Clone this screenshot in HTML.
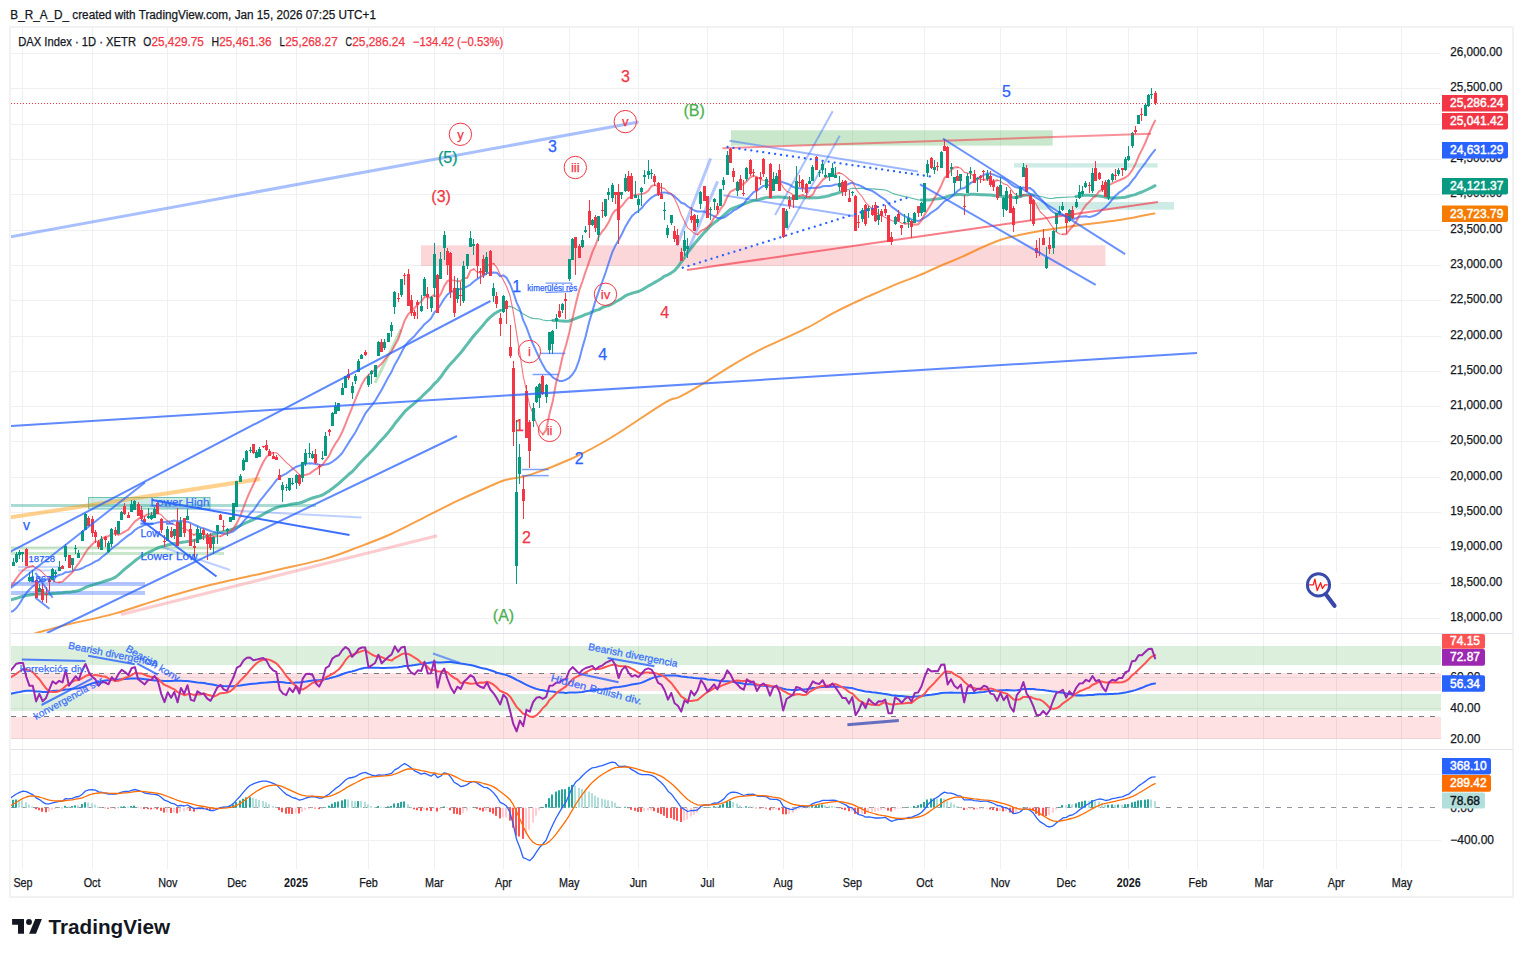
<!DOCTYPE html>
<html><head><meta charset="utf-8"><style>
html,body{margin:0;padding:0;background:#fff;width:1523px;height:957px;overflow:hidden}
svg{display:block}
</style></head><body>
<svg width="1523" height="957" viewBox="0 0 1523 957">
<defs><clipPath id="cmain"><rect x="11" y="28" width="1430" height="605"/></clipPath><clipPath id="crsi"><rect x="11" y="634" width="1430" height="115"/></clipPath><clipPath id="cmacd"><rect x="11" y="750" width="1430" height="119"/></clipPath></defs>
<rect x="10" y="27" width="1503" height="870" fill="none" stroke="#f2f2f2" stroke-width="2"/>
<rect x="22" y="28" width="1" height="841" fill="#eef0f1"/>
<rect x="92" y="28" width="1" height="841" fill="#eef0f1"/>
<rect x="167" y="28" width="1" height="841" fill="#eef0f1"/>
<rect x="236" y="28" width="1" height="841" fill="#eef0f1"/>
<rect x="296" y="28" width="1" height="841" fill="#eef0f1"/>
<rect x="368" y="28" width="1" height="841" fill="#eef0f1"/>
<rect x="434" y="28" width="1" height="841" fill="#eef0f1"/>
<rect x="503" y="28" width="1" height="841" fill="#eef0f1"/>
<rect x="569" y="28" width="1" height="841" fill="#eef0f1"/>
<rect x="638" y="28" width="1" height="841" fill="#eef0f1"/>
<rect x="707" y="28" width="1" height="841" fill="#eef0f1"/>
<rect x="783" y="28" width="1" height="841" fill="#eef0f1"/>
<rect x="852" y="28" width="1" height="841" fill="#eef0f1"/>
<rect x="924" y="28" width="1" height="841" fill="#eef0f1"/>
<rect x="1000" y="28" width="1" height="841" fill="#eef0f1"/>
<rect x="1066" y="28" width="1" height="841" fill="#eef0f1"/>
<rect x="1128" y="28" width="1" height="841" fill="#eef0f1"/>
<rect x="1197" y="28" width="1" height="841" fill="#eef0f1"/>
<rect x="1263" y="28" width="1" height="841" fill="#eef0f1"/>
<rect x="1336" y="28" width="1" height="841" fill="#eef0f1"/>
<rect x="1401" y="28" width="1" height="841" fill="#eef0f1"/>
<rect x="11" y="53" width="1430" height="1" fill="#eef0f1"/>
<rect x="11" y="88" width="1430" height="1" fill="#eef0f1"/>
<rect x="11" y="124" width="1430" height="1" fill="#eef0f1"/>
<rect x="11" y="159" width="1430" height="1" fill="#eef0f1"/>
<rect x="11" y="194" width="1430" height="1" fill="#eef0f1"/>
<rect x="11" y="230" width="1430" height="1" fill="#eef0f1"/>
<rect x="11" y="265" width="1430" height="1" fill="#eef0f1"/>
<rect x="11" y="300" width="1430" height="1" fill="#eef0f1"/>
<rect x="11" y="336" width="1430" height="1" fill="#eef0f1"/>
<rect x="11" y="371" width="1430" height="1" fill="#eef0f1"/>
<rect x="11" y="406" width="1430" height="1" fill="#eef0f1"/>
<rect x="11" y="441" width="1430" height="1" fill="#eef0f1"/>
<rect x="11" y="477" width="1430" height="1" fill="#eef0f1"/>
<rect x="11" y="512" width="1430" height="1" fill="#eef0f1"/>
<rect x="11" y="547" width="1430" height="1" fill="#eef0f1"/>
<rect x="11" y="583" width="1430" height="1" fill="#eef0f1"/>
<rect x="11" y="618" width="1430" height="1" fill="#eef0f1"/>
<rect x="11" y="677" width="1430" height="1" fill="#eef0f1"/>
<rect x="11" y="708" width="1430" height="1" fill="#eef0f1"/>
<rect x="11" y="738" width="1430" height="1" fill="#eef0f1"/>
<rect x="11" y="774" width="1430" height="1" fill="#eef0f1"/>
<rect x="11" y="840" width="1430" height="1" fill="#eef0f1"/>
<rect x="11" y="633" width="1502" height="1" fill="#e0e3eb"/>
<rect x="11" y="749" width="1502" height="1" fill="#e0e3eb"/>
<g clip-path="url(#cmain)">
<rect x="421" y="245.3" width="684.5" height="20.7" fill="#f23645" fill-opacity="0.2"/>
<rect x="731" y="130.3" width="321.7" height="15.3" fill="#4caf50" fill-opacity="0.3"/>
<rect x="1014" y="163.2" width="143.6" height="4.4" fill="#089981" fill-opacity="0.2"/>
<rect x="1036" y="202" width="138" height="7.7" fill="#089981" fill-opacity="0.2"/>
<rect x="88.5" y="497.5" width="121.5" height="11.5" fill="#089981" fill-opacity="0.2" stroke="#089981" stroke-opacity="0.55" stroke-width="1"/>
<line x1="10" y1="505.5" x2="316" y2="505.5" stroke="#089981" stroke-width="3" stroke-opacity="0.35" stroke-linecap="butt"/>
<line x1="10" y1="548" x2="224" y2="548" stroke="#4caf50" stroke-width="3" stroke-opacity="0.3" stroke-linecap="butt"/>
<line x1="10" y1="553.5" x2="224" y2="553.5" stroke="#4caf50" stroke-width="3" stroke-opacity="0.3" stroke-linecap="butt"/>
<line x1="10" y1="584" x2="145" y2="584" stroke="#2962ff" stroke-width="4" stroke-opacity="0.35" stroke-linecap="butt"/>
<line x1="10" y1="593" x2="145" y2="593" stroke="#2962ff" stroke-width="4" stroke-opacity="0.35" stroke-linecap="butt"/>
<line x1="18" y1="567" x2="60" y2="567" stroke="#2962ff" stroke-width="2" stroke-opacity="0.25" stroke-linecap="butt"/>
<line x1="18" y1="570.5" x2="60" y2="570.5" stroke="#2962ff" stroke-width="2" stroke-opacity="0.25" stroke-linecap="butt"/>
<line x1="10" y1="517.5" x2="260" y2="479" stroke="#ff9800" stroke-width="4" stroke-opacity="0.45" stroke-linecap="butt"/>
<line x1="121" y1="614.5" x2="437" y2="535.7" stroke="#f23645" stroke-width="3" stroke-opacity="0.25" stroke-linecap="butt"/>
<line x1="10" y1="237" x2="638.5" y2="122" stroke="#2962ff" stroke-width="3" stroke-opacity="0.4" stroke-linecap="butt"/>
<line x1="150" y1="506" x2="361.5" y2="517.5" stroke="#2962ff" stroke-width="2" stroke-opacity="0.3" stroke-linecap="butt"/>
<line x1="162" y1="547" x2="230" y2="570" stroke="#2962ff" stroke-width="2" stroke-opacity="0.3" stroke-linecap="butt"/>
<line x1="375" y1="383" x2="401" y2="329.5" stroke="#4caf50" stroke-width="3" stroke-opacity="0.35" stroke-linecap="butt"/>
<line x1="729.5" y1="140.7" x2="918" y2="171.4" stroke="#2962ff" stroke-width="2" stroke-opacity="0.45" stroke-linecap="butt"/>
<line x1="723.5" y1="195.3" x2="853.6" y2="216.1" stroke="#2962ff" stroke-width="2" stroke-opacity="0.45" stroke-linecap="butt"/>
<line x1="676.9" y1="245.9" x2="710.6" y2="158.5" stroke="#2962ff" stroke-width="3" stroke-opacity="0.35" stroke-linecap="butt"/>
<line x1="685.8" y1="255.8" x2="717.6" y2="181.4" stroke="#2962ff" stroke-width="3" stroke-opacity="0.35" stroke-linecap="butt"/>
<line x1="775.1" y1="215.1" x2="832.7" y2="111.3" stroke="#2962ff" stroke-width="2" stroke-opacity="0.4" stroke-linecap="butt"/>
<line x1="787" y1="230" x2="839.7" y2="135.7" stroke="#2962ff" stroke-width="2" stroke-opacity="0.4" stroke-linecap="butt"/>
<path d="M30.0 635.0C31.2 634.6 31.1 634.5 37.3 632.8C43.5 631.1 54.4 627.8 67.3 624.6C80.2 621.4 98.8 617.9 114.5 613.6C130.2 609.3 146.0 603.3 161.8 598.6C177.6 593.9 192.7 589.3 209.1 585.2C225.5 581.1 248.8 576.4 260.0 573.9C271.2 571.4 265.3 572.6 276.2 570.1C287.1 567.6 311.8 562.4 325.5 558.6C339.2 554.8 347.4 551.2 358.3 547.1C369.2 543.0 380.2 538.9 391.1 534.0C402.1 529.1 413.1 523.1 424.0 517.6C434.9 512.1 445.9 506.4 456.8 501.2C467.7 496.0 481.4 490.0 489.6 486.4C497.8 482.8 499.3 481.7 506.0 479.8C512.7 477.9 519.0 478.4 530.0 474.9C541.0 471.3 558.4 464.7 571.9 458.5C585.4 452.3 596.0 446.7 611.3 437.5C626.6 428.3 652.3 410.1 663.8 403.3C675.2 396.5 673.0 400.1 680.0 396.6C687.0 393.1 697.1 387.2 705.6 382.1C714.1 377.0 722.7 370.9 731.2 365.8C739.7 360.7 748.3 355.7 756.8 351.3C765.3 346.9 773.9 343.4 782.4 339.4C790.9 335.4 799.5 331.8 808.0 327.4C816.5 323.0 826.5 316.7 833.6 312.9C840.7 309.1 845.0 307.1 850.7 304.4C856.4 301.7 860.7 299.9 867.8 296.7C874.9 293.5 884.9 288.9 893.4 285.3C901.9 281.8 911.2 278.6 919.0 275.4C926.8 272.2 933.0 269.0 940.0 266.0C947.0 263.0 950.6 261.8 960.7 257.4C970.8 253.0 987.4 244.2 1000.8 239.8C1014.2 235.4 1026.8 233.4 1041.0 230.8C1055.2 228.2 1072.6 226.1 1086.0 224.3C1099.4 222.5 1109.9 221.6 1121.3 219.8C1132.7 218.0 1149.0 214.5 1154.5 213.4" fill="none" stroke="#f57c00" stroke-width="2" stroke-opacity="0.72" stroke-linecap="round"/>
<polyline points="9.8,600.3 13.1,599.2 16.4,598.3 19.7,597.2 23.0,596.3 26.3,595.5 29.5,594.9 32.8,594.4 36.1,594.3 39.4,594.1 42.7,594.0 46.0,594.0 49.3,593.9 52.6,593.6 55.9,593.3 59.2,592.9 62.5,592.7 65.7,592.2 69.0,592.2 72.3,591.8 75.6,591.2 78.9,590.5 82.2,589.2 85.5,587.4 88.8,586.1 92.1,585.2 95.4,584.1 98.7,583.1 101.9,582.1 105.2,581.0 108.5,580.0 111.8,578.9 115.1,577.4 118.4,574.9 121.7,571.9 125.0,568.9 128.3,566.3 131.6,563.6 134.9,560.8 138.1,558.4 141.4,556.1 144.7,554.5 148.0,552.7 151.3,551.1 154.6,549.5 157.9,547.9 161.2,546.7 164.5,545.9 167.8,545.0 171.1,544.3 174.3,543.4 177.6,543.1 180.9,542.5 184.2,542.1 187.5,541.4 190.8,541.0 194.1,540.4 197.4,539.4 200.7,538.1 204.0,537.1 207.3,536.0 210.6,535.0 213.8,534.1 217.1,533.2 220.4,532.2 223.7,531.4 227.0,530.6 230.3,530.0 233.6,528.7 236.9,527.2 240.2,525.7 243.5,523.9 246.8,522.3 250.0,521.0 253.3,519.6 256.6,517.9 259.9,516.2 263.2,514.2 266.5,512.4 269.8,510.7 273.1,509.0 276.4,507.7 279.7,506.6 283.0,505.9 286.2,505.4 289.5,504.6 292.8,504.0 296.1,503.4 299.4,503.0 302.7,502.0 306.0,500.6 309.3,499.2 312.6,498.0 315.9,497.0 319.2,496.1 322.4,495.0 325.7,493.1 329.0,490.9 332.3,488.6 335.6,486.0 338.9,483.4 342.2,480.3 345.5,477.4 348.8,474.3 352.1,471.7 355.4,468.3 358.6,464.5 361.9,461.0 365.2,457.5 368.5,454.3 371.8,450.8 375.1,447.2 378.4,443.3 381.7,439.8 385.0,436.3 388.3,432.4 391.6,428.3 394.8,423.8 398.1,419.7 401.4,415.7 404.7,411.7 408.0,408.6 411.3,405.8 414.6,403.1 417.9,400.2 421.2,397.3 424.5,393.9 427.8,390.9 431.0,387.8 434.3,383.8 437.6,380.8 440.9,376.8 444.2,371.9 447.5,367.5 450.8,363.6 454.1,360.3 457.4,356.4 460.7,352.8 464.0,348.5 467.2,344.3 470.5,340.0 473.8,335.8 477.1,332.1 480.4,328.2 483.7,324.4 487.0,320.4 490.3,317.2 493.6,314.3 496.9,312.2 500.2,310.5" fill="none" stroke="#089981" stroke-width="3" stroke-opacity="0.65" stroke-linejoin="round" stroke-linecap="round"/>
<polyline points="500.2,310.5 500.2,310.5 503.4,308.4 506.7,306.8 510.0,306.4 513.3,307.5 516.6,309.6 519.9,311.2 523.2,314.0 526.5,315.7 529.8,317.6 533.1,318.3 536.4,318.6 539.7,319.0 542.9,320.0 546.2,320.7 549.5,320.5 552.8,320.4" fill="none" stroke="#089981" stroke-width="1.2" stroke-opacity="0.65" stroke-linejoin="round" stroke-linecap="round"/>
<polyline points="552.8,320.4 552.8,320.4 556.1,320.3 559.4,320.8 562.7,320.9 566.0,321.3 569.3,321.0 572.6,319.7 575.9,318.4 579.1,317.2 582.4,315.9 585.7,314.4 589.0,313.3 592.3,311.8 595.6,310.4 598.9,309.6 602.2,307.6 605.5,306.4 608.8,305.6 612.1,304.0 615.3,302.0 618.6,300.2 621.9,298.2 625.2,295.9 628.5,294.4 631.8,293.3 635.1,292.4 638.4,291.5 641.7,290.0 645.0,288.0 648.3,285.9 651.5,284.3 654.8,282.4 658.1,280.5 661.4,278.4 664.7,276.1 668.0,274.8 671.3,272.9 674.6,270.5 677.9,266.8 681.2,262.2 684.5,257.8 687.7,252.7 691.0,248.4 694.3,244.0 697.6,240.2 700.9,236.3 704.2,232.6 707.5,229.1 710.8,225.6 714.1,222.9 717.4,220.5 720.7,217.9 723.9,215.2 727.2,212.2 730.5,209.4 733.8,207.8 737.1,206.7 740.4,205.5 743.7,204.2 747.0,202.8 750.3,201.7 753.6,200.6 756.9,200.1 760.1,199.1 763.4,198.2 766.7,197.6 770.0,197.6 773.3,197.3 776.6,197.1 779.9,197.0 783.2,197.3 786.5,197.7 789.8,198.3 793.1,198.4 796.3,198.1 799.6,197.8 802.9,197.6 806.2,197.7 809.5,197.9 812.8,197.8 816.1,197.7 819.4,197.5 822.7,196.9 826.0,196.4 829.3,195.7 832.5,194.5 835.8,193.7 839.1,192.6 842.4,191.5" fill="none" stroke="#089981" stroke-width="3" stroke-opacity="0.65" stroke-linejoin="round" stroke-linecap="round"/>
<polyline points="842.4,191.5 842.4,191.5 845.7,190.1 849.0,189.3 852.3,188.3 855.6,188.5 858.9,188.3 862.2,188.1 865.5,188.8 868.8,188.9 872.0,188.9 875.3,189.1 878.6,189.4 881.9,189.6 885.2,190.0 888.5,191.3 891.8,193.0 895.1,194.1 898.4,195.0 901.7,195.9 905.0,196.6 908.2,197.0 911.5,198.2 914.8,199.0 918.1,199.8 921.4,200.0" fill="none" stroke="#089981" stroke-width="1.2" stroke-opacity="0.65" stroke-linejoin="round" stroke-linecap="round"/>
<polyline points="921.4,200.0 921.4,200.0 924.7,200.1 928.0,199.9 931.3,199.7 934.6,199.1 937.9,198.8 941.2,198.4 944.4,197.6 947.7,196.4 951.0,195.5 954.3,195.0 957.6,194.6 960.9,194.5 964.2,195.0 967.5,194.7 970.8,194.3 974.1,194.3 977.4,194.5 980.6,194.7 983.9,194.7 987.2,194.9 990.5,195.1 993.8,195.4 997.1,196.0 1000.4,196.2 1003.7,196.5 1007.0,196.5 1010.3,196.9 1013.6,197.4 1016.8,197.5 1020.1,196.6 1023.4,195.5 1026.7,195.1 1030.0,194.7 1033.3,195.0" fill="none" stroke="#089981" stroke-width="3" stroke-opacity="0.65" stroke-linejoin="round" stroke-linecap="round"/>
<polyline points="1033.3,195.0 1033.3,195.0 1036.6,195.8 1039.9,196.4 1043.2,197.0 1046.5,197.8 1049.8,198.5 1053.0,198.3 1056.3,197.7 1059.6,197.6 1062.9,197.3 1066.2,197.2 1069.5,197.0 1072.8,197.0 1076.1,196.5" fill="none" stroke="#089981" stroke-width="1.2" stroke-opacity="0.65" stroke-linejoin="round" stroke-linecap="round"/>
<polyline points="1076.1,196.5 1076.1,196.5 1079.4,196.0 1082.7,195.6 1086.0,195.2 1089.2,195.2 1092.5,195.4 1095.8,195.7 1099.1,195.9 1102.4,196.4 1105.7,197.3 1109.0,197.9 1112.3,197.8 1115.6,198.0 1118.9,197.8 1122.2,197.6 1125.4,197.3 1128.7,196.3 1132.0,195.4 1135.3,194.6 1138.6,193.2 1141.9,192.0 1145.2,190.5 1148.5,189.0 1151.8,187.4 1155.1,185.7" fill="none" stroke="#089981" stroke-width="3" stroke-opacity="0.65" stroke-linejoin="round" stroke-linecap="round"/>
<polyline points="9.8,612.0 13.1,611.0 16.4,608.0 19.7,603.5 23.0,597.9 26.3,593.0 29.5,589.5 32.8,586.3 36.1,584.3 39.4,581.8 42.7,580.2 46.0,579.7 49.3,578.5 52.6,577.2 55.9,576.3 59.2,575.0 62.5,574.1 65.7,572.2 69.0,571.9 72.3,571.1 75.6,569.9 78.9,569.5 82.2,568.3 85.5,566.4 88.8,565.1 92.1,563.4 95.4,561.4 98.7,560.0 101.9,557.0 105.2,554.6 108.5,551.8 111.8,548.5 115.1,546.0 118.4,543.6 121.7,540.6 125.0,538.0 128.3,535.4 131.6,533.3 134.9,530.0 138.1,527.9 141.4,526.5 144.7,524.9 148.0,524.2 151.3,524.2 154.6,523.4 157.9,522.4 161.2,522.1 164.5,521.9 167.8,521.4 171.1,521.2 174.3,520.5 177.6,521.4 180.9,520.9 184.2,521.4 187.5,521.7 190.8,523.2 194.1,524.7 197.4,526.0 200.7,527.6 204.0,528.5 207.3,529.7 210.6,531.0 213.8,532.1 217.1,532.6 220.4,533.1 223.7,533.8 227.0,533.7 230.3,532.5 233.6,531.2 236.9,528.4 240.2,525.7 243.5,521.4 246.8,517.8 250.0,513.7 253.3,510.5 256.6,505.8 259.9,500.9 263.2,496.8 266.5,492.6 269.8,488.7 273.1,484.5 276.4,480.1 279.7,477.2 283.0,475.2 286.2,473.6 289.5,471.2 292.8,468.9 296.1,466.8 299.4,465.8 302.7,464.8 306.0,463.7 309.3,463.3 312.6,463.5 315.9,464.1 319.2,464.8 322.4,465.1 325.7,464.5 329.0,463.7 332.3,461.8 335.6,459.4 338.9,456.6 342.2,453.0 345.5,447.8 348.8,442.4 352.1,437.4 355.4,432.3 358.6,426.1 361.9,420.2 365.2,413.7 368.5,409.4 371.8,405.3 375.1,400.9 378.4,395.3 381.7,389.7 385.0,383.5 388.3,377.3 391.6,371.7 394.8,364.7 398.1,359.0 401.4,352.6 404.7,346.2 408.0,342.1 411.3,339.0 414.6,335.9 417.9,331.8 421.2,328.3 424.5,324.2 427.8,321.4 431.0,318.5 434.3,312.4 437.6,309.5 440.9,304.2 444.2,298.8 447.5,294.5 450.8,292.0 454.1,291.0 457.4,289.2 460.7,289.3 464.0,287.7 467.2,286.5 470.5,284.6 473.8,281.5 477.1,279.1 480.4,276.9 483.7,275.4 487.0,273.0 490.3,272.8 493.6,272.4 496.9,272.7 500.2,276.3 503.4,275.4 506.7,277.9 510.0,284.0 513.3,292.3 516.6,302.3 519.9,309.5 523.2,320.2 526.5,327.3 529.8,336.5 533.1,344.3 536.4,351.7 539.7,358.7 542.9,365.1 546.2,370.8 549.5,373.6 552.8,377.3 556.1,379.4 559.4,380.9 562.7,380.9 566.0,379.7 569.3,377.8 572.6,374.3 575.9,368.9 579.1,360.2 582.4,347.6 585.7,336.3 589.0,322.5 592.3,311.6 595.6,300.4 598.9,290.8 602.2,282.0 605.5,272.8 608.8,262.7 612.1,252.7 615.3,245.8 618.6,240.3 621.9,234.0 625.2,227.1 628.5,221.4 631.8,216.3 635.1,213.1 638.4,211.1 641.7,208.1 645.0,203.9 648.3,200.5 651.5,197.6 654.8,195.5 658.1,194.2 661.4,192.8 664.7,192.4 668.0,193.3 671.3,194.1 674.6,196.4 677.9,199.4 681.2,202.8 684.5,203.7 687.7,206.5 691.0,208.5 694.3,210.5 697.6,211.5 700.9,211.4 704.2,211.5 707.5,213.0 710.8,214.7 714.1,216.1 717.4,218.0 720.7,218.3 723.9,217.6 727.2,215.4 730.5,213.0 733.8,210.4 737.1,208.8 740.4,206.4 743.7,203.8 747.0,199.2 750.3,195.9 753.6,192.2 756.9,190.8 760.1,188.2 763.4,185.9 766.7,185.3 770.0,185.1 773.3,183.1 776.6,181.5 779.9,181.1 783.2,182.4 786.5,183.5 789.8,184.7 793.1,187.0 796.3,187.9 799.6,188.2 802.9,188.5 806.2,188.6 809.5,188.0 812.8,187.9 816.1,187.7 819.4,187.6 822.7,186.3 826.0,186.1 829.3,186.1 832.5,185.5 835.8,184.4 839.1,184.6 842.4,185.4 845.7,185.5 849.0,183.7 852.3,182.8 855.6,184.1 858.9,185.2 862.2,186.7 865.5,188.7 868.8,189.7 872.0,190.9 875.3,192.8 878.6,195.3 881.9,197.5 885.2,199.6 888.5,203.5 891.8,206.9 895.1,209.1 898.4,211.7 901.7,214.4 905.0,216.3 908.2,217.7 911.5,219.4 914.8,220.0 918.1,221.1 921.4,219.7 924.7,217.7 928.0,215.4 931.3,212.6 934.6,210.5 937.9,208.1 941.2,204.6 944.4,201.4 947.7,199.5 951.0,197.2 954.3,194.0 957.6,190.9 960.9,188.8 964.2,188.1 967.5,185.5 970.8,182.9 974.1,181.2 977.4,178.7 980.6,176.9 983.9,174.9 987.2,173.5 990.5,173.6 993.8,174.7 997.1,176.2 1000.4,177.1 1003.7,178.7 1007.0,180.6 1010.3,183.8 1013.6,186.1 1016.8,187.6 1020.1,188.1 1023.4,187.4 1026.7,188.3 1030.0,188.1 1033.3,190.5 1036.6,194.6 1039.9,198.1 1043.2,201.4 1046.5,205.4 1049.8,209.2 1053.0,212.1 1056.3,213.5 1059.6,214.7 1062.9,215.1 1066.2,217.0 1069.5,217.6 1072.8,218.9 1076.1,218.3 1079.4,216.7 1082.7,216.4 1086.0,216.2 1089.2,217.1 1092.5,216.2 1095.8,215.0 1099.1,212.8 1102.4,209.6 1105.7,206.9 1109.0,203.6 1112.3,199.4 1115.6,195.8 1118.9,192.7 1122.2,190.5 1125.4,187.9 1128.7,185.4 1132.0,180.9 1135.3,177.0 1138.6,171.9 1141.9,167.5 1145.2,163.2 1148.5,158.4 1151.8,153.9 1155.1,149.8" fill="none" stroke="#2962ff" stroke-width="2" stroke-opacity="0.7" stroke-linejoin="round" stroke-linecap="round"/>
<polyline points="9.8,587.8 13.1,583.5 16.4,578.4 19.7,574.0 23.0,570.4 26.3,567.7 29.5,566.7 32.8,565.9" fill="none" stroke="#f23645" stroke-width="2" stroke-opacity="0.6" stroke-linejoin="round" stroke-linecap="round"/>
<polyline points="32.8,565.9 36.1,568.4 39.4,569.6 42.7,572.6 46.0,575.8 49.3,578.7 52.6,580.3 55.9,582.3 59.2,582.4" fill="none" stroke="#f23645" stroke-width="1.1" stroke-opacity="0.7" stroke-linejoin="round" stroke-linecap="round"/>
<polyline points="59.2,582.4 62.5,581.6 65.7,578.5 69.0,575.5 72.3,572.5 75.6,567.3 78.9,563.1 82.2,558.0 85.5,552.5 88.8,547.9 92.1,544.5 95.4,541.3" fill="none" stroke="#f23645" stroke-width="2" stroke-opacity="0.6" stroke-linejoin="round" stroke-linecap="round"/>
<polyline points="95.4,541.3 98.7,541.4" fill="none" stroke="#f23645" stroke-width="1.1" stroke-opacity="0.7" stroke-linejoin="round" stroke-linecap="round"/>
<polyline points="98.7,541.4 101.9,538.6 105.2,536.8 108.5,536.2 111.8,533.8" fill="none" stroke="#f23645" stroke-width="2" stroke-opacity="0.6" stroke-linejoin="round" stroke-linecap="round"/>
<polyline points="111.8,533.8 115.1,534.1 118.4,534.8" fill="none" stroke="#f23645" stroke-width="1.1" stroke-opacity="0.7" stroke-linejoin="round" stroke-linecap="round"/>
<polyline points="118.4,534.8 121.7,533.3 125.0,531.5 128.3,529.6 131.6,525.3 134.9,521.5 138.1,519.1 141.4,516.7 144.7,516.0 148.0,514.2 151.3,513.6 154.6,513.4 157.9,513.4" fill="none" stroke="#f23645" stroke-width="2" stroke-opacity="0.6" stroke-linejoin="round" stroke-linecap="round"/>
<polyline points="157.9,513.4 161.2,514.6 164.5,518.4 167.8,521.2 171.1,523.4 174.3,524.4 177.6,526.8 180.9,527.5 184.2,529.2 187.5,530.0 190.8,533.1 194.1,534.9" fill="none" stroke="#f23645" stroke-width="1.1" stroke-opacity="0.7" stroke-linejoin="round" stroke-linecap="round"/>
<polyline points="194.1,534.9 197.4,533.5" fill="none" stroke="#f23645" stroke-width="2" stroke-opacity="0.6" stroke-linejoin="round" stroke-linecap="round"/>
<polyline points="197.4,533.5 200.7,533.9" fill="none" stroke="#f23645" stroke-width="1.1" stroke-opacity="0.7" stroke-linejoin="round" stroke-linecap="round"/>
<polyline points="200.7,533.9 204.0,533.6" fill="none" stroke="#f23645" stroke-width="2" stroke-opacity="0.6" stroke-linejoin="round" stroke-linecap="round"/>
<polyline points="204.0,533.6 207.3,535.1 210.6,535.2 213.8,536.7" fill="none" stroke="#f23645" stroke-width="1.1" stroke-opacity="0.7" stroke-linejoin="round" stroke-linecap="round"/>
<polyline points="213.8,536.7 217.1,536.0" fill="none" stroke="#f23645" stroke-width="2" stroke-opacity="0.6" stroke-linejoin="round" stroke-linecap="round"/>
<polyline points="217.1,536.0 220.4,536.3" fill="none" stroke="#f23645" stroke-width="1.1" stroke-opacity="0.7" stroke-linejoin="round" stroke-linecap="round"/>
<polyline points="220.4,536.3 223.7,534.5 227.0,532.6 230.3,531.4 233.6,528.4 236.9,523.1 240.2,516.3 243.5,507.5 246.8,498.9 250.0,491.4 253.3,484.8 256.6,477.2 259.9,469.2 263.2,462.3 266.5,456.9 269.8,454.3 273.1,452.7" fill="none" stroke="#f23645" stroke-width="2" stroke-opacity="0.6" stroke-linejoin="round" stroke-linecap="round"/>
<polyline points="273.1,452.7 276.4,452.7 279.7,455.6 283.0,459.1 286.2,462.4 289.5,465.1 292.8,468.5 296.1,471.3 299.4,474.7 302.7,475.3" fill="none" stroke="#f23645" stroke-width="1.1" stroke-opacity="0.7" stroke-linejoin="round" stroke-linecap="round"/>
<polyline points="302.7,475.3 306.0,474.7 309.3,473.9 312.6,471.4 315.9,469.2 319.2,467.2 322.4,465.1 325.7,460.4 329.0,456.1 332.3,449.0 335.6,443.4 338.9,438.5 342.2,432.0 345.5,424.2 348.8,415.7 352.1,407.6 355.4,399.4 358.6,391.9 361.9,384.2 365.2,378.4 368.5,375.3 371.8,372.1 375.1,369.8 378.4,366.4 381.7,363.7 385.0,359.4 388.3,355.1 391.6,351.5 394.8,345.2 398.1,339.6 401.4,329.9 404.7,320.4 408.0,314.4 411.3,311.6 414.6,308.0 417.9,304.3 421.2,301.6 424.5,297.0" fill="none" stroke="#f23645" stroke-width="2" stroke-opacity="0.6" stroke-linejoin="round" stroke-linecap="round"/>
<polyline points="424.5,297.0 427.8,297.5" fill="none" stroke="#f23645" stroke-width="1.1" stroke-opacity="0.7" stroke-linejoin="round" stroke-linecap="round"/>
<polyline points="427.8,297.5 431.0,297.4 434.3,294.9" fill="none" stroke="#f23645" stroke-width="2" stroke-opacity="0.6" stroke-linejoin="round" stroke-linecap="round"/>
<polyline points="434.3,294.9 437.6,298.5" fill="none" stroke="#f23645" stroke-width="1.1" stroke-opacity="0.7" stroke-linejoin="round" stroke-linecap="round"/>
<polyline points="437.6,298.5 440.9,293.9 444.2,286.1 447.5,281.0 450.8,279.7" fill="none" stroke="#f23645" stroke-width="2" stroke-opacity="0.6" stroke-linejoin="round" stroke-linecap="round"/>
<polyline points="450.8,279.7 454.1,280.4 457.4,281.3" fill="none" stroke="#f23645" stroke-width="1.1" stroke-opacity="0.7" stroke-linejoin="round" stroke-linecap="round"/>
<polyline points="457.4,281.3 460.7,281.1 464.0,278.0 467.2,278.0 470.5,270.6 473.8,269.1" fill="none" stroke="#f23645" stroke-width="2" stroke-opacity="0.6" stroke-linejoin="round" stroke-linecap="round"/>
<polyline points="473.8,269.1 477.1,272.1 480.4,272.8" fill="none" stroke="#f23645" stroke-width="1.1" stroke-opacity="0.7" stroke-linejoin="round" stroke-linecap="round"/>
<polyline points="480.4,272.8 483.7,271.1 487.0,265.6 490.3,264.4 493.6,263.6" fill="none" stroke="#f23645" stroke-width="2" stroke-opacity="0.6" stroke-linejoin="round" stroke-linecap="round"/>
<polyline points="493.6,263.6 496.9,267.4 500.2,274.5 503.4,280.3 506.7,286.8 510.0,295.8 513.3,311.8 516.6,333.5 519.9,353.5 523.2,376.0 526.5,391.0 529.8,405.7 533.1,414.1 536.4,423.2 539.7,430.7 542.9,434.4" fill="none" stroke="#f23645" stroke-width="1.1" stroke-opacity="0.7" stroke-linejoin="round" stroke-linecap="round"/>
<polyline points="542.9,434.4 546.2,429.8 549.5,413.8 552.8,401.1 556.1,382.8 559.4,370.7 562.7,356.0 566.0,345.3 569.3,332.4 572.6,317.9 575.9,303.4 579.1,290.7 582.4,281.5 585.7,271.4 589.0,262.1 592.3,252.4 595.6,244.8 598.9,236.3 602.2,231.5 605.5,227.6 608.8,222.0 612.1,214.7 615.3,210.2 618.6,209.2 621.9,205.8 625.2,201.7 628.5,197.9 631.8,196.3 635.1,194.7 638.4,194.6 641.7,194.1 645.0,193.1 648.3,190.7 651.5,186.0 654.8,185.1" fill="none" stroke="#f23645" stroke-width="2" stroke-opacity="0.6" stroke-linejoin="round" stroke-linecap="round"/>
<polyline points="654.8,185.1 658.1,186.8 661.4,187.6 664.7,188.6 668.0,191.9 671.3,193.6 674.6,198.7 677.9,205.7 681.2,214.8 684.5,221.5 687.7,227.9 691.0,230.3 694.3,233.5 697.6,234.5" fill="none" stroke="#f23645" stroke-width="1.1" stroke-opacity="0.7" stroke-linejoin="round" stroke-linecap="round"/>
<polyline points="697.6,234.5 700.9,230.8 704.2,229.4 707.5,227.3 710.8,223.7 714.1,217.5 717.4,214.5 720.7,208.7 723.9,204.8 727.2,197.2 730.5,191.6 733.8,190.0 737.1,188.1 740.4,185.4 743.7,184.0 747.0,180.9 750.3,177.3 753.6,175.7" fill="none" stroke="#f23645" stroke-width="2" stroke-opacity="0.6" stroke-linejoin="round" stroke-linecap="round"/>
<polyline points="753.6,175.7 756.9,176.8 760.1,179.2 763.4,180.3 766.7,180.5 770.0,182.0" fill="none" stroke="#f23645" stroke-width="1.1" stroke-opacity="0.7" stroke-linejoin="round" stroke-linecap="round"/>
<polyline points="770.0,182.0 773.3,180.9 776.6,179.0" fill="none" stroke="#f23645" stroke-width="2" stroke-opacity="0.6" stroke-linejoin="round" stroke-linecap="round"/>
<polyline points="776.6,179.0 779.9,181.2 783.2,187.4 786.5,191.2 789.8,192.7 793.1,194.8 796.3,195.5 799.6,195.9" fill="none" stroke="#f23645" stroke-width="1.1" stroke-opacity="0.7" stroke-linejoin="round" stroke-linecap="round"/>
<polyline points="799.6,195.9 802.9,195.0" fill="none" stroke="#f23645" stroke-width="2" stroke-opacity="0.6" stroke-linejoin="round" stroke-linecap="round"/>
<polyline points="802.9,195.0 806.2,196.4 809.5,196.9" fill="none" stroke="#f23645" stroke-width="1.1" stroke-opacity="0.7" stroke-linejoin="round" stroke-linecap="round"/>
<polyline points="809.5,196.9 812.8,194.6 816.1,188.0 819.4,184.1 822.7,179.9 826.0,177.4 829.3,176.6 832.5,175.2 835.8,173.9 839.1,172.9" fill="none" stroke="#f23645" stroke-width="2" stroke-opacity="0.6" stroke-linejoin="round" stroke-linecap="round"/>
<polyline points="839.1,172.9 842.4,173.9 845.7,176.4 849.0,179.5 852.3,181.5 855.6,188.2 858.9,193.0 862.2,196.7 865.5,202.3 868.8,205.6 872.0,208.9 875.3,211.8 878.6,214.1 881.9,215.6 885.2,217.6 888.5,218.8 891.8,220.7 895.1,221.4" fill="none" stroke="#f23645" stroke-width="1.1" stroke-opacity="0.7" stroke-linejoin="round" stroke-linecap="round"/>
<polyline points="895.1,221.4 898.4,221.1" fill="none" stroke="#f23645" stroke-width="2" stroke-opacity="0.6" stroke-linejoin="round" stroke-linecap="round"/>
<polyline points="898.4,221.1 901.7,223.2 905.0,223.8" fill="none" stroke="#f23645" stroke-width="1.1" stroke-opacity="0.7" stroke-linejoin="round" stroke-linecap="round"/>
<polyline points="905.0,223.8 908.2,223.6" fill="none" stroke="#f23645" stroke-width="2" stroke-opacity="0.6" stroke-linejoin="round" stroke-linecap="round"/>
<polyline points="908.2,223.6 911.5,224.8" fill="none" stroke="#f23645" stroke-width="1.1" stroke-opacity="0.7" stroke-linejoin="round" stroke-linecap="round"/>
<polyline points="911.5,224.8 914.8,224.5 918.1,224.5 921.4,220.5 924.7,214.6 928.0,209.3 931.3,204.0 934.6,197.8 937.9,192.3 941.2,185.7 944.4,178.1 947.7,174.6 951.0,170.0 954.3,167.4 957.6,167.2" fill="none" stroke="#f23645" stroke-width="2" stroke-opacity="0.6" stroke-linejoin="round" stroke-linecap="round"/>
<polyline points="957.6,167.2 960.9,168.3 964.2,172.2 967.5,173.1 970.8,173.5 974.1,176.6 977.4,179.3 980.6,179.3 983.9,179.8" fill="none" stroke="#f23645" stroke-width="1.1" stroke-opacity="0.7" stroke-linejoin="round" stroke-linecap="round"/>
<polyline points="983.9,179.8 987.2,179.6" fill="none" stroke="#f23645" stroke-width="2" stroke-opacity="0.6" stroke-linejoin="round" stroke-linecap="round"/>
<polyline points="987.2,179.6 990.5,180.0 993.8,181.2" fill="none" stroke="#f23645" stroke-width="1.1" stroke-opacity="0.7" stroke-linejoin="round" stroke-linecap="round"/>
<polyline points="993.8,181.2 997.1,180.3" fill="none" stroke="#f23645" stroke-width="2" stroke-opacity="0.6" stroke-linejoin="round" stroke-linecap="round"/>
<polyline points="997.1,180.3 1000.4,181.1 1003.7,183.9 1007.0,184.7 1010.3,188.2 1013.6,192.9 1016.8,195.3 1020.1,196.6" fill="none" stroke="#f23645" stroke-width="1.1" stroke-opacity="0.7" stroke-linejoin="round" stroke-linecap="round"/>
<polyline points="1020.1,196.6 1023.4,194.8" fill="none" stroke="#f23645" stroke-width="2" stroke-opacity="0.6" stroke-linejoin="round" stroke-linecap="round"/>
<polyline points="1023.4,194.8 1026.7,195.3 1030.0,195.9 1033.3,199.8 1036.6,205.3 1039.9,211.5 1043.2,214.7 1046.5,217.9 1049.8,223.1 1053.0,227.5 1056.3,232.1 1059.6,234.0 1062.9,234.3" fill="none" stroke="#f23645" stroke-width="1.1" stroke-opacity="0.7" stroke-linejoin="round" stroke-linecap="round"/>
<polyline points="1062.9,234.3 1066.2,234.2 1069.5,229.8 1072.8,226.3 1076.1,222.0 1079.4,215.5 1082.7,209.7 1086.0,204.9 1089.2,202.1 1092.5,198.3 1095.8,195.8 1099.1,191.4 1102.4,189.4 1105.7,187.4 1109.0,185.2 1112.3,183.4 1115.6,181.8 1118.9,180.5 1122.2,179.0 1125.4,177.5 1128.7,175.0 1132.0,170.4 1135.3,164.5 1138.6,156.3 1141.9,149.9 1145.2,143.0 1148.5,134.9 1151.8,127.3 1155.1,120.6" fill="none" stroke="#f23645" stroke-width="2" stroke-opacity="0.6" stroke-linejoin="round" stroke-linecap="round"/>
<line x1="11" y1="103.5" x2="1441" y2="103.5" stroke="#f23645" stroke-width="1" stroke-dasharray="1 2" stroke-linecap="butt"/>
<path d="M13 558h1v8h-1zM12 562h3v4h-3zM16 552h1v11h-1zM15 554h3v8h-3zM19 550h1v9h-1zM18 552h3v3h-3zM22 552h1v10h-1zM21 552h3v2h-3zM29 572h1v10h-1zM28 577h3v4h-3zM32 570h1v12h-1zM31 577h3v4h-3zM39 584h1v8h-1zM38 588h3v4h-3zM52 568h1v12h-1zM51 569h3v11h-3zM55 570h1v7h-1zM54 572h3v2h-3zM59 561h1v10h-1zM58 567h3v4h-3zM65 544h1v17h-1zM64 546h3v11h-3zM72 558h1v12h-1zM71 558h3v7h-3zM75 545h1v9h-1zM74 548h3v1h-3zM78 550h1v8h-1zM77 553h3v5h-3zM82 530h1v11h-1zM81 531h3v10h-3zM85 513h1v17h-1zM84 514h3v16h-3zM101 536h1v14h-1zM100 539h3v11h-3zM108 541h1v12h-1zM107 543h3v9h-3zM111 528h1v19h-1zM110 529h3v15h-3zM118 521h1v13h-1zM117 521h3v13h-3zM121 511h1v9h-1zM120 512h3v8h-3zM131 500h1v12h-1zM130 504h3v8h-3zM134 500h1v10h-1zM133 501h3v9h-3zM148 508h1v11h-1zM147 516h3v2h-3zM151 512h1v8h-1zM150 515h3v4h-3zM154 507h1v11h-1zM153 509h3v9h-3zM167 526h1v15h-1zM166 529h3v12h-3zM174 529h1v10h-1zM173 529h3v7h-3zM180 517h1v20h-1zM179 522h3v15h-3zM187 509h1v11h-1zM186 516h3v4h-3zM197 526h1v17h-1zM196 529h3v14h-3zM200 528h1v11h-1zM199 533h3v6h-3zM213 537h1v17h-1zM212 537h3v7h-3zM217 525h1v19h-1zM216 525h3v6h-3zM227 528h1v8h-1zM226 529h3v2h-3zM230 517h1v5h-1zM229 517h3v5h-3zM233 503h1v17h-1zM232 503h3v17h-3zM236 481h1v26h-1zM235 481h3v26h-3zM240 474h1v8h-1zM239 476h3v6h-3zM243 458h1v13h-1zM242 460h3v10h-3zM246 450h1v12h-1zM245 451h3v11h-3zM250 447h1v6h-1zM249 450h3v1h-3zM256 450h1v8h-1zM255 452h3v6h-3zM259 447h1v10h-1zM258 449h3v8h-3zM282 482h1v20h-1zM281 485h3v5h-3zM286 484h1v7h-1zM285 487h3v1h-3zM289 478h1v13h-1zM288 478h3v12h-3zM292 478h1v7h-1zM291 483h3v1h-3zM296 474h1v15h-1zM295 475h3v8h-3zM302 462h1v20h-1zM301 462h3v16h-3zM305 449h1v17h-1zM304 453h3v11h-3zM309 443h1v15h-1zM308 453h3v1h-3zM312 451h1v8h-1zM311 454h3v4h-3zM322 451h1v9h-1zM321 458h3v1h-3zM325 432h1v24h-1zM324 436h3v20h-3zM332 412h1v14h-1zM331 413h3v13h-3zM335 402h1v12h-1zM334 406h3v8h-3zM338 403h1v8h-1zM337 403h3v8h-3zM342 383h1v12h-1zM341 388h3v7h-3zM345 376h1v12h-1zM344 376h3v12h-3zM352 382h1v17h-1zM351 386h3v7h-3zM355 374h1v10h-1zM354 376h3v5h-3zM358 359h1v13h-1zM357 361h3v11h-3zM361 354h1v5h-1zM360 355h3v4h-3zM368 374h1v13h-1zM367 376h3v9h-3zM371 370h1v14h-1zM370 371h3v3h-3zM375 365h1v12h-1zM374 365h3v12h-3zM378 341h1v15h-1zM377 342h3v14h-3zM384 339h1v11h-1zM383 342h3v6h-3zM388 333h1v9h-1zM387 333h3v9h-3zM391 322h1v15h-1zM390 325h3v6h-3zM394 291h1v23h-1zM393 292h3v15h-3zM401 279h1v18h-1zM400 279h3v16h-3zM421 295h1v17h-1zM420 306h3v5h-3zM424 277h1v19h-1zM423 279h3v17h-3zM431 296h1v16h-1zM430 297h3v11h-3zM434 243h1v54h-1zM433 254h3v34h-3zM440 252h1v27h-1zM439 259h3v20h-3zM444 231h1v29h-1zM443 235h3v13h-3zM457 278h1v25h-1zM456 288h3v11h-3zM463 261h1v42h-1zM462 266h3v35h-3zM467 254h1v15h-1zM466 254h3v12h-3zM470 231h1v16h-1zM469 238h3v9h-3zM473 239h1v16h-1zM472 244h3v2h-3zM486 252h1v23h-1zM485 257h3v15h-3zM493 283h1v19h-1zM492 288h3v8h-3zM503 295h1v18h-1zM502 296h3v16h-3zM516 420h1v164h-1zM515 492h3v74h-3zM519 444h1v40h-1zM518 457h3v17h-3zM533 403h1v24h-1zM532 408h3v13h-3zM536 386h1v17h-1zM535 387h3v15h-3zM539 383h1v25h-1zM538 384h3v14h-3zM546 384h1v19h-1zM545 385h3v12h-3zM549 332h1v22h-1zM548 332h3v18h-3zM552 330h1v24h-1zM551 331h3v13h-3zM556 314h1v15h-1zM555 318h3v3h-3zM562 303h1v10h-1zM561 304h3v6h-3zM569 259h1v22h-1zM568 259h3v20h-3zM572 238h1v22h-1zM571 239h3v21h-3zM582 235h1v13h-1zM581 240h3v7h-3zM585 226h1v7h-1zM584 230h3v2h-3zM592 219h1v7h-1zM591 220h3v5h-3zM598 216h1v25h-1zM597 216h3v19h-3zM605 199h1v18h-1zM604 199h3v17h-3zM608 188h1v12h-1zM607 192h3v3h-3zM612 183h1v19h-1zM611 185h3v13h-3zM621 192h1v7h-1zM620 192h3v3h-3zM625 174h1v18h-1zM624 178h3v13h-3zM635 181h1v17h-1zM634 195h3v3h-3zM638 195h1v18h-1zM637 199h3v6h-3zM641 187h1v19h-1zM640 188h3v4h-3zM644 170h1v14h-1zM643 175h3v2h-3zM648 160h1v19h-1zM647 171h3v4h-3zM651 169h1v10h-1zM650 173h3v1h-3zM664 202h1v18h-1zM663 210h3v1h-3zM667 225h1v13h-1zM666 228h3v7h-3zM671 215h1v10h-1zM670 215h3v8h-3zM684 231h1v25h-1zM683 240h3v11h-3zM687 238h1v20h-1zM686 246h3v3h-3zM697 215h1v12h-1zM696 219h3v4h-3zM700 191h1v18h-1zM699 192h3v12h-3zM710 207h1v13h-1zM709 209h3v1h-3zM714 198h1v12h-1zM713 199h3v3h-3zM720 189h1v17h-1zM719 189h3v17h-3zM723 177h1v13h-1zM722 180h3v5h-3zM727 151h1v24h-1zM726 155h3v20h-3zM737 181h1v15h-1zM736 182h3v9h-3zM746 167h1v14h-1zM745 168h3v11h-3zM766 177h1v13h-1zM765 179h3v9h-3zM773 172h1v19h-1zM772 179h3v12h-3zM776 173h1v11h-1zM775 176h3v8h-3zM786 209h1v19h-1zM785 211h3v17h-3zM796 166h1v34h-1zM795 181h3v19h-3zM809 177h1v7h-1zM808 181h3v3h-3zM812 165h1v16h-1zM811 167h3v14h-3zM819 170h1v7h-1zM818 172h3v1h-3zM822 162h1v12h-1zM821 164h3v6h-3zM825 168h1v10h-1zM824 175h3v2h-3zM829 173h1v8h-1zM828 173h3v4h-3zM832 163h1v14h-1zM831 168h3v9h-3zM835 167h1v11h-1zM834 175h3v3h-3zM839 176h1v15h-1zM838 183h3v4h-3zM852 191h1v5h-1zM851 192h3v1h-3zM862 208h1v14h-1zM861 210h3v9h-3zM868 206h1v12h-1zM867 208h3v3h-3zM878 209h1v16h-1zM877 215h3v5h-3zM895 216h1v9h-1zM894 217h3v7h-3zM904 214h1v10h-1zM903 222h3v1h-3zM908 213h1v15h-1zM907 218h3v4h-3zM914 212h1v11h-1zM913 213h3v10h-3zM921 202h1v14h-1zM920 203h3v10h-3zM924 183h1v29h-1zM923 183h3v29h-3zM927 160h1v17h-1zM926 164h3v9h-3zM934 160h1v14h-1zM933 167h3v3h-3zM941 151h1v17h-1zM940 152h3v16h-3zM951 163h1v13h-1zM950 167h3v2h-3zM954 177h1v16h-1zM953 177h3v6h-3zM960 174h1v15h-1zM959 174h3v7h-3zM967 173h1v20h-1zM966 176h3v17h-3zM970 167h1v12h-1zM969 171h3v2h-3zM977 177h1v15h-1zM976 178h3v1h-3zM987 170h1v11h-1zM986 174h3v5h-3zM1000 177h1v19h-1zM999 185h3v11h-3zM1003 197h1v20h-1zM1002 198h3v11h-3zM1006 187h1v24h-1zM1005 191h3v19h-3zM1016 193h1v11h-1zM1015 196h3v3h-3zM1020 186h1v11h-1zM1019 187h3v9h-3zM1023 163h1v14h-1zM1022 167h3v10h-3zM1046 247h1v22h-1zM1045 257h3v11h-3zM1053 230h1v24h-1zM1052 231h3v17h-3zM1056 213h1v19h-1zM1055 213h3v11h-3zM1059 206h1v9h-1zM1058 211h3v3h-3zM1062 202h1v9h-1zM1061 206h3v4h-3zM1069 209h1v13h-1zM1068 210h3v11h-3zM1076 199h1v9h-1zM1075 202h3v5h-3zM1079 185h1v14h-1zM1078 192h3v6h-3zM1082 186h1v10h-1zM1081 191h3v3h-3zM1085 181h1v7h-1zM1084 183h3v4h-3zM1092 168h1v25h-1zM1091 173h3v18h-3zM1108 179h1v21h-1zM1107 180h3v18h-3zM1112 173h1v9h-1zM1111 174h3v6h-3zM1118 168h1v8h-1zM1117 170h3v4h-3zM1125 157h1v14h-1zM1124 159h3v11h-3zM1128 146h1v15h-1zM1127 156h3v4h-3zM1132 132h1v16h-1zM1131 133h3v13h-3zM1138 115h1v9h-1zM1137 115h3v9h-3zM1145 104h1v12h-1zM1144 105h3v11h-3zM1148 94h1v13h-1zM1147 95h3v11h-3zM1151 88h1v11h-1zM1150 94h3v1h-3z" fill="#089981"/>
<path d="M26 548h1v18h-1zM25 549h3v17h-3zM36 577h1v21h-1zM35 580h3v18h-3zM42 583h1v19h-1zM41 589h3v11h-3zM46 587h1v16h-1zM45 594h3v1h-3zM49 576h1v15h-1zM48 580h3v2h-3zM62 565h1v4h-1zM61 566h3v3h-3zM69 555h1v13h-1zM68 555h3v13h-3zM88 516h1v10h-1zM87 518h3v8h-3zM92 516h1v21h-1zM91 519h3v14h-3zM95 530h1v13h-1zM94 532h3v5h-3zM98 540h1v9h-1zM97 542h3v5h-3zM105 536h1v11h-1zM104 537h3v3h-3zM115 527h1v9h-1zM114 530h3v4h-3zM124 503h1v12h-1zM123 506h3v8h-3zM128 512h1v6h-1zM127 515h3v3h-3zM138 502h1v14h-1zM137 504h3v12h-3zM141 506h1v14h-1zM140 510h3v9h-3zM144 516h1v8h-1zM143 519h3v3h-3zM157 502h1v12h-1zM156 503h3v11h-3zM161 518h1v15h-1zM160 519h3v11h-3zM164 535h1v12h-1zM163 541h3v1h-3zM171 527h1v11h-1zM170 531h3v6h-3zM177 508h1v38h-1zM176 522h3v24h-3zM184 518h1v19h-1zM183 518h3v15h-3zM190 524h1v22h-1zM189 529h3v17h-3zM194 539h1v19h-1zM193 546h3v2h-3zM203 528h1v12h-1zM202 530h3v5h-3zM207 533h1v27h-1zM206 535h3v9h-3zM210 533h1v17h-1zM209 537h3v11h-3zM220 514h1v6h-1zM219 515h3v5h-3zM223 520h1v11h-1zM222 526h3v1h-3zM253 444h1v10h-1zM252 444h3v9h-3zM263 446h1v2h-1zM262 446h3v1h-3zM266 440h1v11h-1zM265 445h3v5h-3zM269 449h1v7h-1zM268 451h3v5h-3zM273 452h1v7h-1zM272 456h3v3h-3zM276 455h1v5h-1zM275 457h3v3h-3zM279 469h1v11h-1zM278 475h3v5h-3zM299 474h1v12h-1zM298 475h3v9h-3zM315 449h1v15h-1zM314 454h3v9h-3zM319 464h1v11h-1zM318 466h3v1h-3zM329 429h1v7h-1zM328 430h3v2h-3zM348 369h1v11h-1zM347 374h3v4h-3zM365 350h1v6h-1zM364 352h3v3h-3zM381 339h1v13h-1zM380 342h3v10h-3zM398 293h1v9h-1zM397 298h3v1h-3zM404 273h1v12h-1zM403 275h3v1h-3zM408 269h1v37h-1zM407 274h3v32h-3zM411 295h1v21h-1zM410 300h3v13h-3zM414 310h1v9h-1zM413 312h3v4h-3zM417 300h1v19h-1zM416 302h3v3h-3zM427 287h1v22h-1zM426 294h3v3h-3zM437 274h1v39h-1zM436 275h3v38h-3zM447 248h1v27h-1zM446 251h3v14h-3zM450 252h1v46h-1zM449 253h3v39h-3zM454 276h1v41h-1zM453 288h3v25h-3zM460 282h1v24h-1zM459 295h3v1h-3zM477 243h1v35h-1zM476 244h3v22h-3zM480 268h1v16h-1zM479 271h3v1h-3zM483 255h1v23h-1zM482 259h3v16h-3zM490 250h1v26h-1zM489 251h3v25h-3zM496 292h1v16h-1zM495 296h3v8h-3zM500 313h1v23h-1zM499 318h3v6h-3zM506 300h1v24h-1zM505 301h3v8h-3zM510 325h1v33h-1zM509 347h3v9h-3zM513 361h1v85h-1zM512 368h3v64h-3zM523 476h1v43h-1zM522 489h3v12h-3zM526 385h1v53h-1zM525 391h3v47h-3zM529 420h1v48h-1zM528 422h3v29h-3zM542 375h1v20h-1zM541 376h3v18h-3zM559 304h1v14h-1zM558 311h3v6h-3zM565 293h1v26h-1zM564 299h3v2h-3zM575 237h1v38h-1zM574 237h3v11h-3zM579 244h1v14h-1zM578 246h3v12h-3zM589 200h1v38h-1zM588 211h3v14h-3zM595 215h1v17h-1zM594 217h3v11h-3zM602 202h1v16h-1zM601 210h3v1h-3zM615 192h1v12h-1zM614 192h3v3h-3zM618 184h1v60h-1zM617 192h3v28h-3zM628 171h1v21h-1zM627 176h3v15h-3zM631 173h1v26h-1zM630 176h3v23h-3zM654 174h1v12h-1zM653 176h3v6h-3zM658 182h1v14h-1zM657 183h3v12h-3zM661 183h1v16h-1zM660 194h3v5h-3zM674 226h1v16h-1zM673 231h3v8h-3zM677 229h1v16h-1zM676 235h3v10h-3zM681 248h1v13h-1zM680 252h3v9h-3zM691 207h1v16h-1zM690 216h3v4h-3zM694 214h1v17h-1zM693 215h3v16h-3zM704 186h1v15h-1zM703 186h3v15h-3zM707 196h1v22h-1zM706 196h3v22h-3zM717 203h1v11h-1zM716 206h3v4h-3zM730 148h1v15h-1zM729 149h3v14h-3zM733 168h1v14h-1zM732 171h3v6h-3zM740 175h1v15h-1zM739 179h3v11h-3zM743 180h1v16h-1zM742 193h3v1h-3zM750 159h1v17h-1zM749 160h3v14h-3zM753 169h1v8h-1zM752 172h3v1h-3zM756 177h1v22h-1zM755 177h3v14h-3zM760 172h1v13h-1zM759 177h3v2h-3zM763 158h1v19h-1zM762 159h3v15h-3zM770 163h1v35h-1zM769 164h3v34h-3zM779 164h1v27h-1zM778 170h3v21h-3zM783 208h1v30h-1zM782 208h3v29h-3zM789 196h1v13h-1zM788 200h3v6h-3zM793 195h1v13h-1zM792 195h3v5h-3zM799 175h1v12h-1zM798 182h3v1h-3zM802 179h1v13h-1zM801 180h3v8h-3zM806 183h1v15h-1zM805 184h3v9h-3zM816 156h1v14h-1zM815 157h3v13h-3zM842 180h1v16h-1zM841 182h3v10h-3zM845 180h1v16h-1zM844 181h3v11h-3zM849 190h1v12h-1zM848 198h3v4h-3zM855 195h1v36h-1zM854 196h3v35h-3zM858 215h1v13h-1zM857 222h3v1h-3zM865 204h1v22h-1zM864 205h3v19h-3zM872 205h1v11h-1zM871 208h3v7h-3zM875 202h1v20h-1zM874 205h3v16h-3zM881 209h1v13h-1zM880 211h3v5h-3zM885 205h1v11h-1zM884 209h3v4h-3zM888 215h1v27h-1zM887 215h3v27h-3zM891 232h1v13h-1zM890 237h3v5h-3zM898 210h1v12h-1zM897 214h3v7h-3zM901 225h1v10h-1zM900 225h3v3h-3zM911 220h1v18h-1zM910 221h3v6h-3zM918 206h1v11h-1zM917 206h3v7h-3zM931 157h1v12h-1zM930 158h3v10h-3zM937 162h1v9h-1zM936 166h3v1h-3zM944 139h1v12h-1zM943 146h3v5h-3zM947 146h1v32h-1zM946 147h3v31h-3zM957 170h1v11h-1zM956 176h3v5h-3zM964 195h1v20h-1zM963 206h3v1h-3zM974 170h1v13h-1zM973 174h3v9h-3zM980 175h1v8h-1zM979 176h3v2h-3zM983 170h1v11h-1zM982 171h3v1h-3zM990 171h1v16h-1zM989 176h3v9h-3zM993 179h1v12h-1zM992 181h3v6h-3zM997 186h1v14h-1zM996 187h3v11h-3zM1010 190h1v23h-1zM1009 194h3v19h-3zM1013 206h1v26h-1zM1012 208h3v17h-3zM1026 165h1v27h-1zM1025 168h3v24h-3zM1030 194h1v27h-1zM1029 196h3v8h-3zM1033 199h1v27h-1zM1032 200h3v24h-3zM1036 240h1v18h-1zM1035 248h3v5h-3zM1039 238h1v18h-1zM1038 252h3v1h-3zM1043 229h1v16h-1zM1042 238h3v7h-3zM1049 237h1v17h-1zM1048 245h3v4h-3zM1066 213h1v21h-1zM1065 213h3v10h-3zM1072 206h1v13h-1zM1071 210h3v8h-3zM1089 182h1v11h-1zM1088 185h3v1h-3zM1095 161h1v20h-1zM1094 168h3v13h-3zM1099 172h1v8h-1zM1098 173h3v6h-3zM1102 181h1v11h-1zM1101 185h3v5h-3zM1105 180h1v17h-1zM1104 182h3v15h-3zM1115 169h1v11h-1zM1114 175h3v1h-3zM1122 168h1v8h-1zM1121 168h3v2h-3zM1135 126h1v8h-1zM1134 130h3v2h-3zM1141 108h1v13h-1zM1140 114h3v1h-3zM1155 91h1v14h-1zM1154 93h3v10h-3z" fill="#f23645"/>
<line x1="10" y1="426" x2="1197" y2="353" stroke="#2962ff" stroke-width="2" stroke-opacity="0.75" stroke-linecap="butt"/>
<line x1="10" y1="552" x2="490.5" y2="301" stroke="#2962ff" stroke-width="2" stroke-opacity="0.75" stroke-linecap="butt"/>
<line x1="47" y1="633" x2="457" y2="436" stroke="#2962ff" stroke-width="2" stroke-opacity="0.75" stroke-linecap="butt"/>
<line x1="10" y1="588.5" x2="145" y2="482.5" stroke="#2962ff" stroke-width="2" stroke-opacity="0.7" stroke-linecap="butt"/>
<line x1="35.4" y1="572.7" x2="52.7" y2="597.7" stroke="#2962ff" stroke-width="2" stroke-opacity="0.7" stroke-linecap="butt"/>
<line x1="35.4" y1="597.7" x2="49.5" y2="608.7" stroke="#2962ff" stroke-width="2" stroke-opacity="0.7" stroke-linecap="butt"/>
<line x1="152" y1="500" x2="349.5" y2="535" stroke="#2962ff" stroke-width="2" stroke-opacity="0.9" stroke-linecap="butt"/>
<line x1="140.4" y1="523.6" x2="153.5" y2="523.6" stroke="#2962ff" stroke-width="2" stroke-opacity="0.8" stroke-linecap="butt"/>
<line x1="166" y1="523.6" x2="173.5" y2="523.6" stroke="#2962ff" stroke-width="2" stroke-opacity="0.8" stroke-linecap="butt"/>
<line x1="141" y1="520" x2="216.5" y2="576.5" stroke="#2962ff" stroke-width="2" stroke-opacity="0.9" stroke-linecap="butt"/>
<line x1="687" y1="270" x2="1158" y2="202" stroke="#f23645" stroke-width="2" stroke-opacity="0.65" stroke-linecap="butt"/>
<line x1="722.5" y1="148.2" x2="1151" y2="133.8" stroke="#f23645" stroke-width="2" stroke-opacity="0.55" stroke-linecap="butt"/>
<line x1="727.5" y1="147" x2="930" y2="176.4" stroke="#2962ff" stroke-width="2.3" stroke-dasharray="0.01 6" stroke-linecap="round"/>
<line x1="682.8" y1="267.7" x2="912" y2="196.3" stroke="#2962ff" stroke-width="2.3" stroke-dasharray="0.01 6" stroke-linecap="round"/>
<line x1="942.9" y1="138.5" x2="1125.1" y2="254.1" stroke="#2962ff" stroke-width="2" stroke-opacity="0.7" stroke-linecap="butt"/>
<line x1="920" y1="184.3" x2="1095.7" y2="284.9" stroke="#2962ff" stroke-width="2" stroke-opacity="0.7" stroke-linecap="butt"/>
<line x1="540.4" y1="353.4" x2="565.4" y2="353.4" stroke="#2962ff" stroke-width="1.5" stroke-opacity="0.6" stroke-linecap="butt"/>
<line x1="532.5" y1="374.5" x2="558.8" y2="374.5" stroke="#2962ff" stroke-width="1.5" stroke-opacity="0.6" stroke-linecap="butt"/>
<line x1="522" y1="469.5" x2="548.8" y2="469.5" stroke="#2962ff" stroke-width="1.5" stroke-opacity="0.6" stroke-linecap="butt"/>
<line x1="522" y1="475.6" x2="548.8" y2="475.6" stroke="#2962ff" stroke-width="1.5" stroke-opacity="0.6" stroke-linecap="butt"/>
<text x="625.5" y="82.0" font-family="Liberation Sans, sans-serif" font-size="16" fill="#f23645" text-anchor="middle" stroke="#f23645" stroke-width="0.25">3</text>
<text x="694.2" y="116.0" font-family="Liberation Sans, sans-serif" font-size="16" fill="#4caf50" text-anchor="middle" stroke="#4caf50" stroke-width="0.25">(B)</text>
<circle cx="625.3" cy="121.6" r="11.2" fill="none" stroke="#f23645" stroke-width="1"/>
<text x="625.3" y="126.1" font-family="Liberation Sans, sans-serif" font-size="13" fill="#f23645" text-anchor="middle" stroke="#f23645" stroke-width="0.25">v</text>
<circle cx="460.4" cy="134.3" r="11.2" fill="none" stroke="#f23645" stroke-width="1"/>
<text x="460.4" y="138.8" font-family="Liberation Sans, sans-serif" font-size="13" fill="#f23645" text-anchor="middle" stroke="#f23645" stroke-width="0.25">y</text>
<text x="552.5" y="151.9" font-family="Liberation Sans, sans-serif" font-size="16" fill="#2962ff" text-anchor="middle" stroke="#2962ff" stroke-width="0.25">3</text>
<text x="447.8" y="162.5" font-family="Liberation Sans, sans-serif" font-size="16" fill="#089981" text-anchor="middle" stroke="#089981" stroke-width="0.25">(5)</text>
<circle cx="575.3" cy="167.5" r="11.2" fill="none" stroke="#f23645" stroke-width="1"/>
<text x="575.3" y="172.0" font-family="Liberation Sans, sans-serif" font-size="13" fill="#f23645" text-anchor="middle" stroke="#f23645" stroke-width="0.25">iii</text>
<text x="441.1" y="201.8" font-family="Liberation Sans, sans-serif" font-size="16" fill="#f23645" text-anchor="middle" stroke="#f23645" stroke-width="0.25">(3)</text>
<text x="1006.4" y="96.7" font-family="Liberation Sans, sans-serif" font-size="16" fill="#2962ff" text-anchor="middle" stroke="#2962ff" stroke-width="0.25">5</text>
<text x="516.8" y="292.2" font-family="Liberation Sans, sans-serif" font-size="16" fill="#2962ff" text-anchor="middle" stroke="#2962ff" stroke-width="0.25">1</text>
<text x="527.3" y="290.5" font-family="Liberation Sans, sans-serif" font-size="9" fill="#2962ff" textLength="50.0" lengthAdjust="spacingAndGlyphs" stroke="#2962ff" stroke-width="0.25">kimerülési rés</text>
<line x1="545.6" y1="283.1" x2="572" y2="283.1" stroke="#2962ff" stroke-width="1" stroke-opacity="0.8" stroke-linecap="butt"/>
<line x1="545.6" y1="292.5" x2="572" y2="291.5" stroke="#2962ff" stroke-width="1" stroke-opacity="0.8" stroke-linecap="butt"/>
<circle cx="605.5" cy="294.3" r="11.2" fill="none" stroke="#f23645" stroke-width="1"/>
<text x="605.5" y="298.8" font-family="Liberation Sans, sans-serif" font-size="13" fill="#f23645" text-anchor="middle" stroke="#f23645" stroke-width="0.25">iv</text>
<text x="664.6" y="318.4" font-family="Liberation Sans, sans-serif" font-size="16" fill="#f23645" text-anchor="middle" stroke="#f23645" stroke-width="0.25">4</text>
<circle cx="529.4" cy="351.6" r="11.2" fill="none" stroke="#f23645" stroke-width="1"/>
<text x="529.4" y="356.1" font-family="Liberation Sans, sans-serif" font-size="13" fill="#f23645" text-anchor="middle" stroke="#f23645" stroke-width="0.25">i</text>
<text x="602.7" y="359.7" font-family="Liberation Sans, sans-serif" font-size="16" fill="#2962ff" text-anchor="middle" stroke="#2962ff" stroke-width="0.25">4</text>
<circle cx="549.6" cy="430.4" r="11.2" fill="none" stroke="#f23645" stroke-width="1"/>
<text x="549.6" y="434.9" font-family="Liberation Sans, sans-serif" font-size="13" fill="#f23645" text-anchor="middle" stroke="#f23645" stroke-width="0.25">ii</text>
<text x="519.4" y="431.4" font-family="Liberation Sans, sans-serif" font-size="16" fill="#f23645" text-anchor="middle" stroke="#f23645" stroke-width="0.25">1</text>
<text x="579.3" y="464.2" font-family="Liberation Sans, sans-serif" font-size="16" fill="#2962ff" text-anchor="middle" stroke="#2962ff" stroke-width="0.25">2</text>
<text x="526.5" y="543.0" font-family="Liberation Sans, sans-serif" font-size="16" fill="#f23645" text-anchor="middle" stroke="#f23645" stroke-width="0.25">2</text>
<text x="503.5" y="621.0" font-family="Liberation Sans, sans-serif" font-size="16" fill="#4caf50" text-anchor="middle" stroke="#4caf50" stroke-width="0.25">(A)</text>
<text x="26.6" y="529.5" font-family="Liberation Sans, sans-serif" font-size="14" fill="#2962ff" text-anchor="middle" stroke="#2962ff" stroke-width="0.25">v</text>
<text x="28.5" y="562.0" font-family="Liberation Sans, sans-serif" font-size="9.5" fill="#2962ff" textLength="26.6" lengthAdjust="spacingAndGlyphs" stroke="#2962ff" stroke-width="0.25">18728</text>
<text x="30.0" y="581.5" font-family="Liberation Sans, sans-serif" font-size="9.5" fill="#2962ff" textLength="27.0" lengthAdjust="spacingAndGlyphs" stroke="#2962ff" stroke-width="0.25">18677</text>
<text x="150.6" y="505.8" font-family="Liberation Sans, sans-serif" font-size="11.5" fill="#2962ff" textLength="58.8" lengthAdjust="spacingAndGlyphs" stroke="#2962ff" stroke-width="0.25" fill-opacity="0.85">Lower High</text>
<text x="140.4" y="536.7" font-family="Liberation Sans, sans-serif" font-size="11.5" fill="#2962ff" textLength="19.4" lengthAdjust="spacingAndGlyphs" stroke="#2962ff" stroke-width="0.25">Low</text>
<text x="140.4" y="559.9" font-family="Liberation Sans, sans-serif" font-size="11.5" fill="#2962ff" textLength="57.2" lengthAdjust="spacingAndGlyphs" stroke="#2962ff" stroke-width="0.25">Lower Low</text>
</g>
<rect x="11" y="646" width="1430" height="19" fill="#4caf50" fill-opacity="0.2"/>
<rect x="11" y="673" width="1430" height="18" fill="#f23645" fill-opacity="0.15"/>
<rect x="11" y="694" width="1430" height="17" fill="#4caf50" fill-opacity="0.2"/>
<rect x="11" y="717" width="1430" height="22" fill="#f23645" fill-opacity="0.15"/>
<line x1="11" y1="673.5" x2="1441" y2="673.5" stroke="#787b86" stroke-width="1" stroke-dasharray="5 6" stroke-linecap="butt"/>
<line x1="11" y1="716.5" x2="1441" y2="716.5" stroke="#787b86" stroke-width="1" stroke-dasharray="5 6" stroke-linecap="butt"/>
<g clip-path="url(#crsi)">
<polyline points="9.8,693.9 13.1,693.2 16.4,692.5 19.7,691.9 23.0,691.2 26.3,690.8 29.5,690.7 32.8,690.8 36.1,691.4 39.4,691.6 42.7,691.9 46.0,691.9 49.3,691.7 52.6,691.0 55.9,690.7 59.2,690.6 62.5,690.2 65.7,689.5 69.0,689.3 72.3,688.8 75.6,688.4 78.9,688.2 82.2,687.3 85.5,685.9 88.8,684.6 92.1,683.4 95.4,682.5 98.7,681.9 101.9,681.3 105.2,680.6 108.5,680.2 111.8,679.9 115.1,679.7 118.4,679.5 121.7,679.2 125.0,678.9 128.3,678.8 131.6,678.6 134.9,678.4 138.1,678.6 141.4,678.8 144.7,679.2 148.0,679.6 151.3,680.1 154.6,680.4 157.9,680.5 161.2,680.7 164.5,681.1 167.8,680.9 171.1,681.0 174.3,680.7 177.6,680.8 180.9,680.8 184.2,681.1 187.5,681.1 190.8,681.6 194.1,682.1 197.4,682.6 200.7,682.8 204.0,683.1 207.3,683.7 210.6,684.2 213.8,684.8 217.1,685.4 220.4,685.7 223.7,686.1 227.0,686.3 230.3,686.3 233.6,686.2 236.9,685.8 240.2,685.4 243.5,684.9 246.8,684.4 250.0,684.0 253.3,683.7 256.6,683.4 259.9,683.0 263.2,682.7 266.5,682.6 269.8,682.3 273.1,682.0 276.4,681.7 279.7,681.9 283.0,682.3 286.2,682.7 289.5,682.9 292.8,682.9 296.1,682.5 299.4,682.5 302.7,682.0 306.0,681.6 309.3,680.9 312.6,680.5 315.9,680.3 319.2,680.3 322.4,679.8 325.7,679.0 329.0,678.4 332.3,677.5 335.6,676.6 338.9,675.5 342.2,674.2 345.5,673.0 348.8,672.1 352.1,671.4 355.4,670.5 358.6,669.4 361.9,668.5 365.2,667.8 368.5,667.8 371.8,667.7 375.1,667.8 378.4,667.7 381.7,667.9 385.0,667.9 388.3,667.8 391.6,667.7 394.8,667.4 398.1,667.2 401.4,666.7 404.7,666.1 408.0,666.0 411.3,665.6 414.6,665.1 417.9,664.5 421.2,664.1 424.5,663.3 427.8,663.0 431.0,662.5 434.3,662.0 437.6,662.4 440.9,662.4 444.2,662.2 447.5,662.1 450.8,662.1 454.1,662.4 457.4,662.9 460.7,663.5 464.0,664.0 467.2,664.6 470.5,665.1 473.8,665.8 477.1,666.7 480.4,667.7 483.7,668.4 487.0,669.1 490.3,670.2 493.6,671.3 496.9,672.6 500.2,673.5 503.4,674.2 506.7,675.1 510.0,676.5 513.3,678.0 516.6,679.8 519.9,681.4 523.2,683.2 526.5,684.8 529.8,686.3 533.1,687.7 536.4,688.9 539.7,689.7 542.9,690.3 546.2,690.9 549.5,691.3 552.8,691.6 556.1,692.2 559.4,692.4 562.7,692.5 566.0,693.0 569.3,692.6 572.6,692.4 575.9,692.5 579.1,692.3 582.4,691.9 585.7,691.3 589.0,690.8 592.3,690.2 595.6,689.9 598.9,689.6 602.2,689.4 605.5,689.0 608.8,688.4 612.1,687.7 615.3,687.2 618.6,687.1 621.9,686.6 625.2,685.9 628.5,685.3 631.8,684.6 635.1,684.1 638.4,683.6 641.7,682.6 645.0,681.3 648.3,679.7 651.5,678.4 654.8,677.1 658.1,676.5 661.4,675.8 664.7,675.5 668.0,675.5 671.3,675.4 674.6,675.5 677.9,675.8 681.2,676.4 684.5,676.8 687.7,677.3 691.0,677.5 694.3,677.9 697.6,678.2 700.9,678.4 704.2,678.8 707.5,679.4 710.8,679.7 714.1,680.1 717.4,680.6 720.7,681.0 723.9,681.3 727.2,681.3 730.5,681.5 733.8,681.9 737.1,682.4 740.4,683.1 743.7,683.8 747.0,684.2 750.3,684.3 753.6,684.6 756.9,685.2 760.1,685.5 763.4,685.7 766.7,686.0 770.0,686.4 773.3,686.8 776.6,687.2 779.9,687.8 783.2,688.8 786.5,689.4 789.8,689.8 793.1,690.0 796.3,689.9 799.6,689.6 802.9,689.6 806.2,689.3 809.5,688.8 812.8,688.1 816.1,687.7 819.4,687.2 822.7,686.9 826.0,686.7 829.3,686.6 832.5,686.7 835.8,686.8 839.1,686.8 842.4,687.1 845.7,687.4 849.0,687.8 852.3,688.1 855.6,689.1 858.9,690.1 862.2,690.7 865.5,691.4 868.8,691.8 872.0,692.2 875.3,692.5 878.6,693.1 881.9,693.6 885.2,694.0 888.5,694.6 891.8,695.3 895.1,695.6 898.4,695.9 901.7,696.1 905.0,696.4 908.2,696.7 911.5,696.9 914.8,696.5 918.1,696.3 921.4,696.0 924.7,695.6 928.0,695.1 931.3,694.7 934.6,694.2 937.9,693.7 941.2,693.1 944.4,692.7 947.7,692.8 951.0,692.6 954.3,692.8 957.6,692.8 960.9,692.8 964.2,693.2 967.5,693.2 970.8,693.0 974.1,692.9 977.4,692.6 980.6,692.2 983.9,692.0 987.2,691.3 990.5,690.9 993.8,690.7 997.1,690.5 1000.4,690.3 1003.7,690.3 1007.0,690.0 1010.3,690.2 1013.6,690.4 1016.8,690.3 1020.1,689.8 1023.4,689.0 1026.7,688.9 1030.0,688.9 1033.3,688.9 1036.6,689.4 1039.9,689.8 1043.2,690.1 1046.5,690.6 1049.8,691.0 1053.0,691.4 1056.3,691.8 1059.6,692.4 1062.9,692.8 1066.2,693.5 1069.5,694.0 1072.8,694.8 1076.1,695.4 1079.4,695.3 1082.7,695.4 1086.0,695.3 1089.2,695.1 1092.5,694.9 1095.8,694.4 1099.1,694.2 1102.4,694.2 1105.7,694.3 1109.0,694.1 1112.3,693.9 1115.6,693.7 1118.9,693.5 1122.2,693.1 1125.4,692.6 1128.7,691.8 1132.0,691.0 1135.3,690.1 1138.6,689.0 1141.9,687.8 1145.2,686.3 1148.5,685.1 1151.8,684.0 1155.1,683.5" fill="none" stroke="#2962ff" stroke-width="2" stroke-linejoin="round" stroke-linecap="round"/>
<polyline points="9.8,677.8 13.1,675.8 16.4,673.8 19.7,671.3 23.0,669.3 26.3,669.1 29.5,670.7 32.8,672.2 36.1,675.9 39.4,679.2 42.7,683.9 46.0,688.3 49.3,691.6 52.6,692.1 55.9,691.9 59.2,691.3 62.5,688.9 65.7,685.9 69.0,684.0 72.3,681.8 75.6,680.2 78.9,680.0 82.2,678.2 85.5,676.1 88.8,674.8 92.1,675.7 95.4,674.9 98.7,675.5 101.9,676.2 105.2,676.5 108.5,678.3 111.8,679.9 115.1,681.0 118.4,680.7 121.7,679.5 125.0,677.8 128.3,676.9 131.6,675.2 134.9,673.0 138.1,673.3 141.4,673.4 144.7,674.7 148.0,676.0 151.3,676.9 154.6,677.1 157.9,678.7 161.2,682.0 164.5,684.9 167.8,686.2 171.1,687.9 174.3,689.3 177.6,692.2 180.9,693.7 184.2,695.2 187.5,694.2 190.8,693.9 194.1,695.0 197.4,694.2 200.7,694.4 204.0,693.3 207.3,694.7 210.6,695.5 213.8,696.7 217.1,695.2 220.4,693.2 223.7,692.9 227.0,692.6 230.3,691.3 233.6,688.6 236.9,684.5 240.2,680.9 243.5,677.5 246.8,674.1 250.0,670.1 253.3,666.3 256.6,663.3 259.9,661.0 263.2,659.8 266.5,659.1 269.8,659.9 273.1,661.5 276.4,663.3 279.7,667.0 283.0,671.2 286.2,675.8 289.5,679.5 292.8,683.5 296.1,685.9 299.4,688.8 302.7,689.6 306.0,687.7 309.3,685.2 312.6,682.7 315.9,682.0 319.2,681.3 322.4,680.6 325.7,677.4 329.0,675.9 332.3,673.9 335.6,671.8 338.9,669.3 342.2,665.2 345.5,660.2 348.8,656.4 352.1,655.0 355.4,653.4 358.6,652.2 361.9,651.1 365.2,650.1 368.5,652.3 371.8,654.5 375.1,656.2 378.4,656.0 381.7,657.2 385.0,658.6 388.3,659.7 391.6,660.6 394.8,658.0 398.1,656.3 401.4,654.3 404.7,653.4 408.0,653.9 411.3,655.5 414.6,657.7 417.9,659.7 421.2,662.8 424.5,664.0 427.8,667.3 431.0,670.6 434.3,669.7 437.6,671.5 440.9,671.4 444.2,671.2 447.5,672.2 450.8,675.4 454.1,677.9 457.4,679.5 460.7,683.1 464.0,682.3 467.2,683.0 470.5,683.8 473.8,683.6 477.1,683.3 480.4,682.5 483.7,682.7 487.0,681.8 490.3,682.8 493.6,684.7 496.9,687.6 500.2,691.0 503.4,692.2 506.7,693.6 510.0,696.4 513.3,701.6 516.6,706.9 519.9,710.3 523.2,713.7 526.5,714.4 529.8,716.5 533.1,717.0 536.4,715.4 539.7,712.1 542.9,708.0 546.2,705.1 549.5,700.0 552.8,697.0 556.1,693.4 559.4,690.9 562.7,688.7 566.0,686.4 569.3,682.9 572.6,679.2 575.9,677.2 579.1,675.7 582.4,674.1 585.7,672.3 589.0,670.7 592.3,669.1 595.6,668.9 598.9,668.9 602.2,668.3 605.5,667.0 608.8,665.9 612.1,664.9 615.3,664.6 618.6,666.1 621.9,666.2 625.2,666.2 628.5,667.0 631.8,668.7 635.1,670.5 638.4,672.6 641.7,673.7 645.0,672.6 648.3,672.5 651.5,672.8 654.8,673.1 658.1,673.9 661.4,675.1 664.7,676.8 668.0,680.0 671.3,683.0 674.6,687.3 677.9,691.8 681.2,696.4 684.5,698.6 687.7,700.9 691.0,700.9 694.3,700.4 697.6,700.0 700.9,697.2 704.2,694.5 707.5,692.0 710.8,690.4 714.1,688.1 717.4,688.0 720.7,686.2 723.9,684.7 727.2,683.5 730.5,682.2 733.8,680.9 737.1,680.4 740.4,680.8 743.7,680.9 747.0,680.6 750.3,681.1 753.6,682.6 756.9,684.6 760.1,685.2 763.4,685.1 766.7,684.9 770.0,685.7 773.3,686.6 776.6,687.1 779.9,688.5 783.2,690.9 786.5,692.6 789.8,694.3 793.1,695.3 796.3,694.2 799.6,694.3 802.9,694.9 806.2,694.8 809.5,692.0 812.8,689.8 816.1,688.1 819.4,686.7 822.7,685.9 826.0,685.8 829.3,685.2 832.5,684.1 835.8,684.2 839.1,685.6 842.4,687.4 845.7,689.2 849.0,692.1 852.3,693.4 855.6,697.0 858.9,700.3 862.2,702.1 865.5,704.0 868.8,704.1 872.0,704.7 875.3,704.8 878.6,705.3 881.9,703.6 885.2,702.3 888.5,703.8 891.8,704.4 895.1,704.2 898.4,703.8 901.7,703.6 905.0,703.3 908.2,702.7 911.5,702.9 914.8,700.3 918.1,697.7 921.4,696.4 924.7,693.6 928.0,689.3 931.3,685.9 934.6,682.7 937.9,678.9 941.2,675.4 944.4,671.9 947.7,671.6 951.0,671.9 954.3,674.1 957.6,676.2 960.9,677.9 964.2,681.8 967.5,684.6 970.8,687.1 974.1,687.9 977.4,689.1 980.6,689.5 983.9,689.2 987.2,689.5 990.5,688.4 993.8,689.3 997.1,691.2 1000.4,691.5 1003.7,692.9 1007.0,693.8 1010.3,696.4 1013.6,699.5 1016.8,699.7 1020.1,699.3 1023.4,696.9 1026.7,697.0 1030.0,696.8 1033.3,698.1 1036.6,699.2 1039.9,699.6 1043.2,701.5 1046.5,704.5 1049.8,708.0 1053.0,708.9 1056.3,708.3 1059.6,706.5 1062.9,703.3 1066.2,701.1 1069.5,698.7 1072.8,696.2 1076.1,693.5 1079.4,691.3 1082.7,690.1 1086.0,688.6 1089.2,687.5 1092.5,684.8 1095.8,683.5 1099.1,681.7 1102.4,681.6 1105.7,682.5 1109.0,682.4 1112.3,682.4 1115.6,682.3 1118.9,682.6 1122.2,682.2 1125.4,681.2 1128.7,679.2 1132.0,675.4 1135.3,672.7 1138.6,669.6 1141.9,666.4 1145.2,663.2 1148.5,659.6 1151.8,656.6 1155.1,655.1" fill="none" stroke="#ff5252" stroke-width="2" stroke-linejoin="round" stroke-linecap="round"/>
<polyline points="9.8,671.6 13.1,667.6 16.4,663.7 19.7,663.1 23.0,663.1 26.3,676.8 29.5,685.8 32.8,685.8 36.1,701.4 39.4,693.9 42.7,701.3 46.0,698.0 49.3,689.5 52.6,681.4 55.9,683.8 59.2,680.8 62.5,682.4 65.7,670.2 69.0,685.7 72.3,680.9 75.6,676.2 78.9,679.7 82.2,670.0 85.5,664.0 88.8,672.0 92.1,676.8 95.4,679.4 98.7,685.7 101.9,681.7 105.2,682.5 108.5,684.3 111.8,677.1 115.1,680.4 118.4,674.1 121.7,669.8 125.0,672.1 128.3,675.0 131.6,668.3 134.9,667.1 138.1,679.1 141.4,681.7 144.7,684.4 148.0,680.2 151.3,679.8 154.6,675.9 157.9,681.0 161.2,693.8 164.5,702.1 167.8,692.3 171.1,697.8 174.3,692.0 177.6,702.4 180.9,687.9 184.2,693.8 187.5,685.2 190.8,699.9 194.1,700.9 197.4,691.3 200.7,693.4 204.0,694.1 207.3,698.7 210.6,700.8 213.8,694.6 217.1,687.7 220.4,684.9 223.7,689.4 227.0,690.9 230.3,683.9 233.6,677.0 236.9,667.7 240.2,665.9 243.5,660.5 246.8,657.7 250.0,657.4 253.3,660.3 256.6,659.6 259.9,658.7 263.2,658.0 266.5,660.6 269.8,666.9 273.1,670.3 276.4,671.9 279.7,689.6 283.0,693.7 286.2,695.2 289.5,688.1 292.8,692.2 296.1,686.1 299.4,693.5 302.7,678.8 306.0,673.9 309.3,673.7 312.6,675.0 315.9,683.2 319.2,686.6 322.4,680.0 325.7,668.2 329.0,666.2 332.3,658.6 335.6,656.3 338.9,655.2 342.2,650.3 345.5,647.0 348.8,649.4 352.1,656.9 355.4,653.6 358.6,649.0 361.9,647.5 365.2,647.5 368.5,667.2 371.8,665.3 375.1,663.0 378.4,654.7 381.7,663.3 385.0,660.0 388.3,656.9 391.6,654.4 394.8,646.3 398.1,651.8 401.4,647.4 404.7,646.8 408.0,668.0 411.3,672.7 414.6,674.4 417.9,670.3 421.2,671.0 424.5,661.8 427.8,673.6 431.0,673.3 434.3,660.4 437.6,687.6 440.9,673.5 444.2,668.5 447.5,679.0 450.8,687.4 454.1,693.1 457.4,686.7 460.7,688.9 464.0,681.5 467.2,678.8 470.5,675.2 473.8,677.3 477.1,684.7 480.4,686.8 483.7,688.0 487.0,682.5 490.3,689.5 493.6,693.3 496.9,698.4 500.2,704.5 503.4,694.6 506.7,698.4 510.0,710.5 513.3,723.9 516.6,731.4 519.9,720.6 523.2,726.1 526.5,709.8 529.8,711.7 533.1,702.2 536.4,697.8 539.7,697.1 542.9,698.9 546.2,696.9 549.5,685.7 552.8,685.5 556.1,682.8 559.4,682.6 562.7,679.8 566.0,679.1 569.3,670.6 572.6,667.1 575.9,670.2 579.1,673.6 582.4,670.0 585.7,668.0 589.0,667.0 592.3,665.9 595.6,669.6 598.9,666.7 602.2,665.6 605.5,662.9 608.8,661.3 612.1,659.7 615.3,665.0 618.6,678.1 621.9,669.9 625.2,666.6 628.5,672.6 631.8,676.6 635.1,675.2 638.4,677.1 641.7,673.5 645.0,669.6 648.3,668.4 651.5,669.6 654.8,675.1 658.1,682.8 661.4,684.6 664.7,690.5 668.0,699.6 671.3,693.0 674.6,703.2 677.9,705.7 681.2,711.6 684.5,700.5 687.7,702.8 691.0,690.7 694.3,695.4 697.6,690.3 700.9,680.2 704.2,684.5 707.5,691.5 710.8,688.1 714.1,684.4 717.4,689.4 720.7,681.3 723.9,678.3 727.2,670.3 730.5,674.4 733.8,681.2 737.1,684.0 740.4,687.8 743.7,689.7 747.0,679.4 750.3,682.3 753.6,681.6 756.9,691.0 760.1,685.7 763.4,683.5 766.7,686.3 770.0,695.6 773.3,687.1 776.6,685.6 779.9,693.1 783.2,710.5 786.5,699.0 789.8,696.9 793.1,694.5 796.3,687.0 799.6,687.9 802.9,690.4 806.2,692.5 809.5,687.4 812.8,681.4 816.1,683.3 819.4,683.9 822.7,680.3 826.0,687.0 829.3,686.2 832.5,683.5 835.8,687.9 839.1,692.8 842.4,697.9 845.7,697.9 849.0,703.6 852.3,697.1 855.6,715.2 858.9,709.9 862.2,702.0 865.5,708.1 868.8,699.1 872.0,702.2 875.3,704.8 878.6,701.3 881.9,701.6 885.2,699.5 888.5,713.3 891.8,713.3 895.1,697.3 898.4,699.3 901.7,702.9 905.0,698.9 908.2,696.7 911.5,701.5 914.8,692.9 918.1,692.5 921.4,686.5 924.7,676.7 928.0,668.8 931.3,671.4 934.6,671.1 937.9,671.3 941.2,664.8 944.4,664.5 947.7,684.5 951.0,679.2 954.3,685.7 957.6,688.4 960.9,684.6 964.2,702.4 967.5,687.2 970.8,684.9 974.1,691.1 977.4,688.7 980.6,688.7 983.9,685.7 987.2,687.0 990.5,693.6 993.8,694.4 997.1,700.8 1000.4,692.9 1003.7,700.1 1007.0,695.6 1010.3,706.8 1013.6,711.7 1016.8,695.2 1020.1,690.8 1023.4,682.0 1026.7,693.7 1030.0,698.6 1033.3,706.1 1036.6,715.1 1039.9,715.1 1043.2,711.0 1046.5,714.7 1049.8,710.0 1053.0,701.0 1056.3,693.1 1059.6,691.9 1062.9,689.9 1066.2,697.6 1069.5,691.3 1072.8,695.0 1076.1,688.0 1079.4,683.6 1082.7,683.3 1086.0,679.8 1089.2,681.4 1092.5,676.0 1095.8,681.1 1099.1,680.0 1102.4,687.2 1105.7,691.5 1109.0,682.3 1112.3,679.7 1115.6,680.8 1118.9,677.9 1122.2,678.0 1125.4,672.2 1128.7,671.0 1132.0,661.2 1135.3,660.8 1138.6,655.2 1141.9,655.2 1145.2,652.0 1148.5,648.9 1151.8,648.7 1155.1,658.4" fill="none" stroke="#9c27b0" stroke-width="2" stroke-linejoin="round" stroke-linecap="round"/>
</g>
<line x1="21.8" y1="659.6" x2="85.5" y2="661" stroke="#2962ff" stroke-width="2" stroke-opacity="0.8" stroke-linecap="butt"/>
<line x1="88.1" y1="655.7" x2="134.7" y2="664.2" stroke="#2962ff" stroke-width="2" stroke-opacity="0.8" stroke-linecap="butt"/>
<line x1="137.3" y1="663.6" x2="157.7" y2="674.7" stroke="#2962ff" stroke-width="2" stroke-opacity="0.8" stroke-linecap="butt"/>
<line x1="41.5" y1="705" x2="92" y2="678.7" stroke="#2962ff" stroke-width="2" stroke-opacity="0.8" stroke-linecap="butt"/>
<line x1="432.9" y1="653.5" x2="460" y2="663" stroke="#2962ff" stroke-width="2" stroke-opacity="0.6" stroke-linecap="butt"/>
<line x1="607.5" y1="658" x2="654.4" y2="666.3" stroke="#2962ff" stroke-width="2" stroke-opacity="0.8" stroke-linecap="butt"/>
<line x1="579" y1="673.7" x2="618.6" y2="682.3" stroke="#2962ff" stroke-width="2" stroke-opacity="0.8" stroke-linecap="butt"/>
<line x1="847.4" y1="724.7" x2="898.8" y2="720.6" stroke="#3f51b5" stroke-width="3" stroke-opacity="0.8" stroke-linecap="butt"/>
<text x="19.8" y="671.5" font-family="Liberation Sans, sans-serif" font-size="9.5" fill="#2962ff" textLength="67.0" lengthAdjust="spacingAndGlyphs" stroke="#2962ff" stroke-width="0.25" fill-opacity="0.85">korrekciós div.</text>
<g transform="translate(67.8,648.5) rotate(11.3)">
<text x="0.0" y="0.0" font-family="Liberation Sans, sans-serif" font-size="10" fill="#2962ff" textLength="91.0" lengthAdjust="spacingAndGlyphs" stroke="#2962ff" stroke-width="0.25" fill-opacity="0.85">Bearish divergencia</text>
</g>
<g transform="translate(124.9,650.4) rotate(31)">
<text x="0.0" y="0.0" font-family="Liberation Sans, sans-serif" font-size="10" fill="#2962ff" textLength="61.0" lengthAdjust="spacingAndGlyphs" stroke="#2962ff" stroke-width="0.25" fill-opacity="0.85">Bearish konv</text>
</g>
<g transform="translate(36,720) rotate(-28.9)">
<text x="0.0" y="0.0" font-family="Liberation Sans, sans-serif" font-size="10" fill="#2962ff" textLength="78.0" lengthAdjust="spacingAndGlyphs" stroke="#2962ff" stroke-width="0.25" fill-opacity="0.85">konvergencia sor</text>
</g>
<g transform="translate(587.7,649.8) rotate(11)">
<text x="0.0" y="0.0" font-family="Liberation Sans, sans-serif" font-size="10" fill="#2962ff" textLength="91.0" lengthAdjust="spacingAndGlyphs" stroke="#2962ff" stroke-width="0.25" fill-opacity="0.85">Bearish divergencia</text>
</g>
<g transform="translate(550.2,681) rotate(14.6)">
<text x="0.0" y="0.0" font-family="Liberation Sans, sans-serif" font-size="10" fill="#2962ff" textLength="94.0" lengthAdjust="spacingAndGlyphs" stroke="#2962ff" stroke-width="0.25" fill-opacity="0.85">Hidden Bullish div.</text>
</g>
<line x1="11" y1="807.5" x2="1441" y2="807.5" stroke="#787b86" stroke-width="1" stroke-opacity="0.8" stroke-dasharray="5 6" stroke-linecap="butt"/>
<g clip-path="url(#cmacd)">
<rect x="8" y="799.9" width="2" height="7.8" fill="#b2dfdb"/>
<rect x="12" y="799.8" width="2" height="7.9" fill="#26a69a"/>
<rect x="15" y="799.5" width="2" height="8.2" fill="#26a69a"/>
<rect x="18" y="799.8" width="2" height="7.9" fill="#b2dfdb"/>
<rect x="21" y="800.4" width="2" height="7.3" fill="#b2dfdb"/>
<rect x="25" y="802.3" width="2" height="5.4" fill="#b2dfdb"/>
<rect x="28" y="804.6" width="2" height="3.1" fill="#b2dfdb"/>
<rect x="31" y="806.4" width="2" height="1.3" fill="#b2dfdb"/>
<rect x="35" y="807.7" width="2" height="1.6" fill="#ff5252"/>
<rect x="38" y="807.7" width="2" height="2.6" fill="#ff5252"/>
<rect x="41" y="807.7" width="2" height="4.1" fill="#ff5252"/>
<rect x="45" y="807.7" width="2" height="4.6" fill="#ff5252"/>
<rect x="48" y="807.7" width="2" height="3.8" fill="#ffcdd2"/>
<rect x="51" y="807.7" width="2" height="2.1" fill="#ffcdd2"/>
<rect x="54" y="807.7" width="2" height="1.3" fill="#ffcdd2"/>
<rect x="58" y="807.7" width="2" height="0.5" fill="#ffcdd2"/>
<rect x="61" y="807.7" width="2" height="0.5" fill="#26a69a"/>
<rect x="64" y="805.8" width="2" height="1.9" fill="#26a69a"/>
<rect x="68" y="806.4" width="2" height="1.3" fill="#b2dfdb"/>
<rect x="71" y="806.1" width="2" height="1.6" fill="#26a69a"/>
<rect x="74" y="805.4" width="2" height="2.3" fill="#26a69a"/>
<rect x="77" y="805.5" width="2" height="2.2" fill="#b2dfdb"/>
<rect x="81" y="804.1" width="2" height="3.6" fill="#26a69a"/>
<rect x="84" y="802.3" width="2" height="5.4" fill="#26a69a"/>
<rect x="87" y="802.4" width="2" height="5.3" fill="#b2dfdb"/>
<rect x="91" y="803.4" width="2" height="4.3" fill="#b2dfdb"/>
<rect x="94" y="804.6" width="2" height="3.1" fill="#b2dfdb"/>
<rect x="97" y="806.5" width="2" height="1.2" fill="#b2dfdb"/>
<rect x="100" y="807.2" width="2" height="0.5" fill="#b2dfdb"/>
<rect x="104" y="807.7" width="2" height="0.5" fill="#ff5252"/>
<rect x="107" y="807.7" width="2" height="1.0" fill="#ff5252"/>
<rect x="110" y="807.7" width="2" height="0.5" fill="#ffcdd2"/>
<rect x="114" y="807.7" width="2" height="0.7" fill="#ff5252"/>
<rect x="117" y="807.6" width="2" height="0.5" fill="#26a69a"/>
<rect x="120" y="806.6" width="2" height="1.1" fill="#26a69a"/>
<rect x="123" y="806.3" width="2" height="1.4" fill="#26a69a"/>
<rect x="127" y="806.6" width="2" height="1.1" fill="#b2dfdb"/>
<rect x="130" y="806.0" width="2" height="1.7" fill="#26a69a"/>
<rect x="133" y="805.6" width="2" height="2.1" fill="#26a69a"/>
<rect x="137" y="806.7" width="2" height="1.0" fill="#b2dfdb"/>
<rect x="140" y="807.7" width="2" height="0.5" fill="#ff5252"/>
<rect x="143" y="807.7" width="2" height="1.3" fill="#ff5252"/>
<rect x="147" y="807.7" width="2" height="1.5" fill="#ff5252"/>
<rect x="150" y="807.7" width="2" height="1.7" fill="#ff5252"/>
<rect x="153" y="807.7" width="2" height="1.4" fill="#ffcdd2"/>
<rect x="156" y="807.7" width="2" height="1.7" fill="#ff5252"/>
<rect x="160" y="807.7" width="2" height="3.1" fill="#ff5252"/>
<rect x="163" y="807.7" width="2" height="4.9" fill="#ff5252"/>
<rect x="166" y="807.7" width="2" height="4.8" fill="#ffcdd2"/>
<rect x="170" y="807.7" width="2" height="5.3" fill="#ff5252"/>
<rect x="173" y="807.7" width="2" height="4.8" fill="#ffcdd2"/>
<rect x="176" y="807.7" width="2" height="5.6" fill="#ff5252"/>
<rect x="179" y="807.7" width="2" height="4.0" fill="#ffcdd2"/>
<rect x="183" y="807.7" width="2" height="3.7" fill="#ffcdd2"/>
<rect x="186" y="807.7" width="2" height="2.1" fill="#ffcdd2"/>
<rect x="189" y="807.7" width="2" height="3.2" fill="#ff5252"/>
<rect x="193" y="807.7" width="2" height="4.0" fill="#ff5252"/>
<rect x="196" y="807.7" width="2" height="2.9" fill="#ffcdd2"/>
<rect x="199" y="807.7" width="2" height="2.4" fill="#ffcdd2"/>
<rect x="202" y="807.7" width="2" height="2.0" fill="#ffcdd2"/>
<rect x="206" y="807.7" width="2" height="2.4" fill="#ff5252"/>
<rect x="209" y="807.7" width="2" height="2.8" fill="#ff5252"/>
<rect x="212" y="807.7" width="2" height="2.2" fill="#ffcdd2"/>
<rect x="216" y="807.7" width="2" height="0.7" fill="#ffcdd2"/>
<rect x="219" y="807.0" width="2" height="0.7" fill="#26a69a"/>
<rect x="222" y="806.8" width="2" height="0.9" fill="#26a69a"/>
<rect x="226" y="806.8" width="2" height="0.9" fill="#b2dfdb"/>
<rect x="229" y="806.0" width="2" height="1.7" fill="#26a69a"/>
<rect x="232" y="804.5" width="2" height="3.2" fill="#26a69a"/>
<rect x="235" y="802.1" width="2" height="5.6" fill="#26a69a"/>
<rect x="239" y="800.5" width="2" height="7.2" fill="#26a69a"/>
<rect x="242" y="798.7" width="2" height="9.0" fill="#26a69a"/>
<rect x="245" y="797.4" width="2" height="10.3" fill="#26a69a"/>
<rect x="249" y="797.2" width="2" height="10.5" fill="#26a69a"/>
<rect x="252" y="797.9" width="2" height="9.8" fill="#b2dfdb"/>
<rect x="255" y="798.9" width="2" height="8.8" fill="#b2dfdb"/>
<rect x="258" y="799.9" width="2" height="7.8" fill="#b2dfdb"/>
<rect x="262" y="801.0" width="2" height="6.7" fill="#b2dfdb"/>
<rect x="265" y="802.4" width="2" height="5.3" fill="#b2dfdb"/>
<rect x="268" y="804.2" width="2" height="3.5" fill="#b2dfdb"/>
<rect x="272" y="806.0" width="2" height="1.7" fill="#b2dfdb"/>
<rect x="275" y="807.5" width="2" height="0.5" fill="#b2dfdb"/>
<rect x="278" y="807.7" width="2" height="2.4" fill="#ff5252"/>
<rect x="281" y="807.7" width="2" height="4.5" fill="#ff5252"/>
<rect x="285" y="807.7" width="2" height="6.0" fill="#ff5252"/>
<rect x="288" y="807.7" width="2" height="6.0" fill="#ff5252"/>
<rect x="291" y="807.7" width="2" height="6.3" fill="#ff5252"/>
<rect x="295" y="807.7" width="2" height="5.7" fill="#ffcdd2"/>
<rect x="298" y="807.7" width="2" height="5.8" fill="#ff5252"/>
<rect x="301" y="807.7" width="2" height="4.1" fill="#ffcdd2"/>
<rect x="304" y="807.7" width="2" height="2.2" fill="#ffcdd2"/>
<rect x="308" y="807.7" width="2" height="1.0" fill="#ffcdd2"/>
<rect x="311" y="807.7" width="2" height="0.5" fill="#ffcdd2"/>
<rect x="314" y="807.7" width="2" height="0.8" fill="#ff5252"/>
<rect x="318" y="807.7" width="2" height="1.4" fill="#ff5252"/>
<rect x="321" y="807.7" width="2" height="1.1" fill="#ffcdd2"/>
<rect x="324" y="807.0" width="2" height="0.7" fill="#26a69a"/>
<rect x="328" y="805.7" width="2" height="2.0" fill="#26a69a"/>
<rect x="331" y="803.7" width="2" height="4.0" fill="#26a69a"/>
<rect x="334" y="802.2" width="2" height="5.5" fill="#26a69a"/>
<rect x="337" y="801.5" width="2" height="6.2" fill="#26a69a"/>
<rect x="341" y="800.4" width="2" height="7.3" fill="#26a69a"/>
<rect x="344" y="799.3" width="2" height="8.4" fill="#26a69a"/>
<rect x="347" y="799.4" width="2" height="8.3" fill="#b2dfdb"/>
<rect x="351" y="800.7" width="2" height="7.0" fill="#b2dfdb"/>
<rect x="354" y="801.3" width="2" height="6.4" fill="#b2dfdb"/>
<rect x="357" y="801.1" width="2" height="6.6" fill="#26a69a"/>
<rect x="360" y="801.1" width="2" height="6.6" fill="#b2dfdb"/>
<rect x="364" y="801.8" width="2" height="5.9" fill="#b2dfdb"/>
<rect x="367" y="804.3" width="2" height="3.4" fill="#b2dfdb"/>
<rect x="370" y="806.0" width="2" height="1.7" fill="#b2dfdb"/>
<rect x="374" y="807.0" width="2" height="0.7" fill="#b2dfdb"/>
<rect x="377" y="806.1" width="2" height="1.6" fill="#26a69a"/>
<rect x="380" y="806.7" width="2" height="1.0" fill="#b2dfdb"/>
<rect x="383" y="806.8" width="2" height="0.9" fill="#b2dfdb"/>
<rect x="387" y="806.4" width="2" height="1.3" fill="#26a69a"/>
<rect x="390" y="805.9" width="2" height="1.8" fill="#26a69a"/>
<rect x="393" y="803.5" width="2" height="4.2" fill="#26a69a"/>
<rect x="397" y="803.1" width="2" height="4.6" fill="#26a69a"/>
<rect x="400" y="801.8" width="2" height="5.9" fill="#26a69a"/>
<rect x="403" y="801.5" width="2" height="6.2" fill="#26a69a"/>
<rect x="407" y="804.2" width="2" height="3.5" fill="#b2dfdb"/>
<rect x="410" y="807.0" width="2" height="0.7" fill="#b2dfdb"/>
<rect x="413" y="807.7" width="2" height="1.6" fill="#ff5252"/>
<rect x="416" y="807.7" width="2" height="2.5" fill="#ff5252"/>
<rect x="420" y="807.7" width="2" height="3.4" fill="#ff5252"/>
<rect x="423" y="807.7" width="2" height="2.0" fill="#ffcdd2"/>
<rect x="426" y="807.7" width="2" height="2.8" fill="#ff5252"/>
<rect x="430" y="807.7" width="2" height="3.4" fill="#ff5252"/>
<rect x="433" y="807.7" width="2" height="0.7" fill="#ffcdd2"/>
<rect x="436" y="807.7" width="2" height="3.8" fill="#ff5252"/>
<rect x="439" y="807.7" width="2" height="1.7" fill="#ffcdd2"/>
<rect x="443" y="806.5" width="2" height="1.2" fill="#26a69a"/>
<rect x="446" y="807.3" width="2" height="0.5" fill="#b2dfdb"/>
<rect x="449" y="807.7" width="2" height="2.6" fill="#ff5252"/>
<rect x="453" y="807.7" width="2" height="6.1" fill="#ff5252"/>
<rect x="456" y="807.7" width="2" height="6.4" fill="#ff5252"/>
<rect x="459" y="807.7" width="2" height="7.1" fill="#ff5252"/>
<rect x="462" y="807.7" width="2" height="5.2" fill="#ffcdd2"/>
<rect x="466" y="807.7" width="2" height="3.1" fill="#ffcdd2"/>
<rect x="469" y="807.7" width="2" height="0.6" fill="#ffcdd2"/>
<rect x="472" y="807.4" width="2" height="0.5" fill="#26a69a"/>
<rect x="476" y="807.7" width="2" height="1.1" fill="#ff5252"/>
<rect x="479" y="807.7" width="2" height="2.5" fill="#ff5252"/>
<rect x="482" y="807.7" width="2" height="3.8" fill="#ff5252"/>
<rect x="485" y="807.7" width="2" height="3.3" fill="#ffcdd2"/>
<rect x="489" y="807.7" width="2" height="4.4" fill="#ff5252"/>
<rect x="492" y="807.7" width="2" height="6.0" fill="#ff5252"/>
<rect x="495" y="807.7" width="2" height="8.1" fill="#ff5252"/>
<rect x="499" y="807.7" width="2" height="10.7" fill="#ff5252"/>
<rect x="502" y="807.7" width="2" height="9.7" fill="#ffcdd2"/>
<rect x="505" y="807.7" width="2" height="9.7" fill="#ffcdd2"/>
<rect x="509" y="807.7" width="2" height="12.9" fill="#ff5252"/>
<rect x="512" y="807.7" width="2" height="20.0" fill="#ff5252"/>
<rect x="515" y="807.7" width="2" height="28.0" fill="#ff5252"/>
<rect x="518" y="807.7" width="2" height="28.8" fill="#ff5252"/>
<rect x="522" y="807.7" width="2" height="31.1" fill="#ff5252"/>
<rect x="525" y="807.7" width="2" height="25.9" fill="#ffcdd2"/>
<rect x="528" y="807.7" width="2" height="22.0" fill="#ffcdd2"/>
<rect x="532" y="807.7" width="2" height="15.0" fill="#ffcdd2"/>
<rect x="535" y="807.7" width="2" height="7.9" fill="#ffcdd2"/>
<rect x="538" y="807.7" width="2" height="2.4" fill="#ffcdd2"/>
<rect x="541" y="806.9" width="2" height="0.8" fill="#26a69a"/>
<rect x="545" y="804.0" width="2" height="3.7" fill="#26a69a"/>
<rect x="548" y="798.1" width="2" height="9.6" fill="#26a69a"/>
<rect x="551" y="794.5" width="2" height="13.2" fill="#26a69a"/>
<rect x="555" y="791.6" width="2" height="16.1" fill="#26a69a"/>
<rect x="558" y="790.3" width="2" height="17.4" fill="#26a69a"/>
<rect x="561" y="789.3" width="2" height="18.4" fill="#26a69a"/>
<rect x="564" y="789.2" width="2" height="18.5" fill="#26a69a"/>
<rect x="568" y="786.8" width="2" height="20.9" fill="#26a69a"/>
<rect x="571" y="784.9" width="2" height="22.8" fill="#26a69a"/>
<rect x="574" y="785.5" width="2" height="22.2" fill="#b2dfdb"/>
<rect x="578" y="787.9" width="2" height="19.8" fill="#b2dfdb"/>
<rect x="581" y="789.1" width="2" height="18.6" fill="#b2dfdb"/>
<rect x="584" y="790.2" width="2" height="17.5" fill="#b2dfdb"/>
<rect x="588" y="791.6" width="2" height="16.1" fill="#b2dfdb"/>
<rect x="591" y="793.1" width="2" height="14.6" fill="#b2dfdb"/>
<rect x="594" y="795.7" width="2" height="12.0" fill="#b2dfdb"/>
<rect x="597" y="797.3" width="2" height="10.4" fill="#b2dfdb"/>
<rect x="601" y="798.7" width="2" height="9.0" fill="#b2dfdb"/>
<rect x="604" y="799.5" width="2" height="8.2" fill="#b2dfdb"/>
<rect x="607" y="800.3" width="2" height="7.4" fill="#b2dfdb"/>
<rect x="611" y="800.9" width="2" height="6.8" fill="#b2dfdb"/>
<rect x="614" y="802.7" width="2" height="5.0" fill="#b2dfdb"/>
<rect x="617" y="806.4" width="2" height="1.3" fill="#b2dfdb"/>
<rect x="620" y="807.0" width="2" height="0.7" fill="#b2dfdb"/>
<rect x="624" y="806.8" width="2" height="0.9" fill="#26a69a"/>
<rect x="627" y="807.7" width="2" height="0.5" fill="#ff5252"/>
<rect x="630" y="807.7" width="2" height="2.1" fill="#ff5252"/>
<rect x="634" y="807.7" width="2" height="3.1" fill="#ff5252"/>
<rect x="637" y="807.7" width="2" height="4.2" fill="#ff5252"/>
<rect x="640" y="807.7" width="2" height="4.2" fill="#ff5252"/>
<rect x="643" y="807.7" width="2" height="3.4" fill="#ffcdd2"/>
<rect x="647" y="807.7" width="2" height="2.7" fill="#ffcdd2"/>
<rect x="650" y="807.7" width="2" height="2.7" fill="#ffcdd2"/>
<rect x="653" y="807.7" width="2" height="3.5" fill="#ff5252"/>
<rect x="657" y="807.7" width="2" height="5.1" fill="#ff5252"/>
<rect x="660" y="807.7" width="2" height="6.4" fill="#ff5252"/>
<rect x="663" y="807.7" width="2" height="8.0" fill="#ff5252"/>
<rect x="666" y="807.7" width="2" height="10.3" fill="#ff5252"/>
<rect x="670" y="807.7" width="2" height="10.4" fill="#ff5252"/>
<rect x="673" y="807.7" width="2" height="11.9" fill="#ff5252"/>
<rect x="676" y="807.7" width="2" height="13.0" fill="#ff5252"/>
<rect x="680" y="807.7" width="2" height="14.3" fill="#ff5252"/>
<rect x="683" y="807.7" width="2" height="12.9" fill="#ffcdd2"/>
<rect x="686" y="807.7" width="2" height="11.9" fill="#ffcdd2"/>
<rect x="690" y="807.7" width="2" height="8.8" fill="#ffcdd2"/>
<rect x="693" y="807.7" width="2" height="7.2" fill="#ffcdd2"/>
<rect x="696" y="807.7" width="2" height="5.0" fill="#ffcdd2"/>
<rect x="699" y="807.7" width="2" height="1.4" fill="#ffcdd2"/>
<rect x="703" y="807.4" width="2" height="0.5" fill="#26a69a"/>
<rect x="706" y="807.7" width="2" height="0.5" fill="#b2dfdb"/>
<rect x="709" y="807.2" width="2" height="0.5" fill="#26a69a"/>
<rect x="713" y="806.2" width="2" height="1.5" fill="#26a69a"/>
<rect x="716" y="806.5" width="2" height="1.2" fill="#b2dfdb"/>
<rect x="719" y="805.2" width="2" height="2.5" fill="#26a69a"/>
<rect x="722" y="803.9" width="2" height="3.8" fill="#26a69a"/>
<rect x="726" y="801.4" width="2" height="6.3" fill="#26a69a"/>
<rect x="729" y="800.8" width="2" height="6.9" fill="#26a69a"/>
<rect x="732" y="802.0" width="2" height="5.7" fill="#b2dfdb"/>
<rect x="736" y="803.5" width="2" height="4.2" fill="#b2dfdb"/>
<rect x="739" y="805.4" width="2" height="2.3" fill="#b2dfdb"/>
<rect x="742" y="807.1" width="2" height="0.6" fill="#b2dfdb"/>
<rect x="745" y="806.3" width="2" height="1.4" fill="#26a69a"/>
<rect x="749" y="806.5" width="2" height="1.2" fill="#b2dfdb"/>
<rect x="752" y="806.6" width="2" height="1.1" fill="#b2dfdb"/>
<rect x="755" y="807.7" width="2" height="0.6" fill="#ff5252"/>
<rect x="759" y="807.7" width="2" height="0.8" fill="#ff5252"/>
<rect x="762" y="807.7" width="2" height="0.6" fill="#ffcdd2"/>
<rect x="765" y="807.7" width="2" height="0.9" fill="#ff5252"/>
<rect x="769" y="807.7" width="2" height="2.6" fill="#ff5252"/>
<rect x="772" y="807.7" width="2" height="2.2" fill="#ffcdd2"/>
<rect x="775" y="807.7" width="2" height="1.7" fill="#ffcdd2"/>
<rect x="778" y="807.7" width="2" height="2.5" fill="#ff5252"/>
<rect x="782" y="807.7" width="2" height="6.5" fill="#ff5252"/>
<rect x="785" y="807.7" width="2" height="6.7" fill="#ff5252"/>
<rect x="788" y="807.7" width="2" height="6.2" fill="#ffcdd2"/>
<rect x="792" y="807.7" width="2" height="5.1" fill="#ffcdd2"/>
<rect x="795" y="807.7" width="2" height="2.8" fill="#ffcdd2"/>
<rect x="798" y="807.7" width="2" height="1.4" fill="#ffcdd2"/>
<rect x="801" y="807.7" width="2" height="0.8" fill="#ffcdd2"/>
<rect x="805" y="807.7" width="2" height="0.8" fill="#ffcdd2"/>
<rect x="808" y="807.6" width="2" height="0.5" fill="#26a69a"/>
<rect x="811" y="806.0" width="2" height="1.7" fill="#26a69a"/>
<rect x="815" y="805.3" width="2" height="2.4" fill="#26a69a"/>
<rect x="818" y="805.2" width="2" height="2.5" fill="#26a69a"/>
<rect x="821" y="804.6" width="2" height="3.1" fill="#26a69a"/>
<rect x="824" y="805.3" width="2" height="2.4" fill="#b2dfdb"/>
<rect x="828" y="805.8" width="2" height="1.9" fill="#b2dfdb"/>
<rect x="831" y="805.9" width="2" height="1.8" fill="#b2dfdb"/>
<rect x="834" y="806.6" width="2" height="1.1" fill="#b2dfdb"/>
<rect x="838" y="807.7" width="2" height="0.5" fill="#ff5252"/>
<rect x="841" y="807.7" width="2" height="1.5" fill="#ff5252"/>
<rect x="844" y="807.7" width="2" height="2.4" fill="#ff5252"/>
<rect x="848" y="807.7" width="2" height="3.6" fill="#ff5252"/>
<rect x="851" y="807.7" width="2" height="3.5" fill="#ffcdd2"/>
<rect x="854" y="807.7" width="2" height="6.2" fill="#ff5252"/>
<rect x="857" y="807.7" width="2" height="7.0" fill="#ff5252"/>
<rect x="861" y="807.7" width="2" height="6.1" fill="#ffcdd2"/>
<rect x="864" y="807.7" width="2" height="6.3" fill="#ff5252"/>
<rect x="867" y="807.7" width="2" height="4.9" fill="#ffcdd2"/>
<rect x="871" y="807.7" width="2" height="4.2" fill="#ffcdd2"/>
<rect x="874" y="807.7" width="2" height="4.0" fill="#ffcdd2"/>
<rect x="877" y="807.7" width="2" height="3.1" fill="#ffcdd2"/>
<rect x="880" y="807.7" width="2" height="2.4" fill="#ffcdd2"/>
<rect x="884" y="807.7" width="2" height="1.5" fill="#ffcdd2"/>
<rect x="887" y="807.7" width="2" height="3.0" fill="#ff5252"/>
<rect x="890" y="807.7" width="2" height="3.8" fill="#ff5252"/>
<rect x="894" y="807.7" width="2" height="2.0" fill="#ffcdd2"/>
<rect x="897" y="807.7" width="2" height="1.0" fill="#ffcdd2"/>
<rect x="900" y="807.7" width="2" height="0.8" fill="#ffcdd2"/>
<rect x="903" y="807.7" width="2" height="0.5" fill="#ffcdd2"/>
<rect x="907" y="806.9" width="2" height="0.8" fill="#26a69a"/>
<rect x="910" y="807.0" width="2" height="0.7" fill="#b2dfdb"/>
<rect x="913" y="805.9" width="2" height="1.8" fill="#26a69a"/>
<rect x="917" y="805.2" width="2" height="2.5" fill="#26a69a"/>
<rect x="920" y="804.1" width="2" height="3.6" fill="#26a69a"/>
<rect x="923" y="802.0" width="2" height="5.7" fill="#26a69a"/>
<rect x="926" y="799.5" width="2" height="8.2" fill="#26a69a"/>
<rect x="930" y="798.5" width="2" height="9.2" fill="#26a69a"/>
<rect x="933" y="798.4" width="2" height="9.3" fill="#26a69a"/>
<rect x="936" y="798.8" width="2" height="8.9" fill="#b2dfdb"/>
<rect x="940" y="798.4" width="2" height="9.3" fill="#26a69a"/>
<rect x="943" y="798.6" width="2" height="9.1" fill="#b2dfdb"/>
<rect x="946" y="801.2" width="2" height="6.5" fill="#b2dfdb"/>
<rect x="950" y="802.5" width="2" height="5.2" fill="#b2dfdb"/>
<rect x="953" y="804.4" width="2" height="3.3" fill="#b2dfdb"/>
<rect x="956" y="806.2" width="2" height="1.5" fill="#b2dfdb"/>
<rect x="959" y="807.0" width="2" height="0.7" fill="#b2dfdb"/>
<rect x="963" y="807.7" width="2" height="2.4" fill="#ff5252"/>
<rect x="966" y="807.7" width="2" height="2.0" fill="#ffcdd2"/>
<rect x="969" y="807.7" width="2" height="1.3" fill="#ffcdd2"/>
<rect x="973" y="807.7" width="2" height="1.8" fill="#ff5252"/>
<rect x="976" y="807.7" width="2" height="1.7" fill="#ffcdd2"/>
<rect x="979" y="807.7" width="2" height="1.7" fill="#ffcdd2"/>
<rect x="982" y="807.7" width="2" height="1.2" fill="#ffcdd2"/>
<rect x="986" y="807.7" width="2" height="1.0" fill="#ffcdd2"/>
<rect x="989" y="807.7" width="2" height="1.8" fill="#ff5252"/>
<rect x="992" y="807.7" width="2" height="2.3" fill="#ff5252"/>
<rect x="996" y="807.7" width="2" height="3.4" fill="#ff5252"/>
<rect x="999" y="807.7" width="2" height="3.1" fill="#ffcdd2"/>
<rect x="1002" y="807.7" width="2" height="3.7" fill="#ff5252"/>
<rect x="1005" y="807.7" width="2" height="3.4" fill="#ffcdd2"/>
<rect x="1009" y="807.7" width="2" height="4.8" fill="#ff5252"/>
<rect x="1012" y="807.7" width="2" height="6.2" fill="#ff5252"/>
<rect x="1015" y="807.7" width="2" height="4.7" fill="#ffcdd2"/>
<rect x="1019" y="807.7" width="2" height="2.8" fill="#ffcdd2"/>
<rect x="1022" y="807.6" width="2" height="0.5" fill="#26a69a"/>
<rect x="1025" y="807.6" width="2" height="0.5" fill="#b2dfdb"/>
<rect x="1029" y="807.7" width="2" height="0.9" fill="#ff5252"/>
<rect x="1032" y="807.7" width="2" height="2.9" fill="#ff5252"/>
<rect x="1035" y="807.7" width="2" height="6.2" fill="#ff5252"/>
<rect x="1038" y="807.7" width="2" height="7.9" fill="#ff5252"/>
<rect x="1042" y="807.7" width="2" height="8.0" fill="#ff5252"/>
<rect x="1045" y="807.7" width="2" height="8.4" fill="#ff5252"/>
<rect x="1048" y="807.7" width="2" height="7.4" fill="#ffcdd2"/>
<rect x="1052" y="807.7" width="2" height="5.0" fill="#ffcdd2"/>
<rect x="1055" y="807.7" width="2" height="1.8" fill="#ffcdd2"/>
<rect x="1058" y="807.1" width="2" height="0.6" fill="#26a69a"/>
<rect x="1061" y="805.1" width="2" height="2.6" fill="#26a69a"/>
<rect x="1065" y="805.2" width="2" height="2.5" fill="#b2dfdb"/>
<rect x="1068" y="804.2" width="2" height="3.5" fill="#26a69a"/>
<rect x="1071" y="804.3" width="2" height="3.4" fill="#b2dfdb"/>
<rect x="1075" y="803.3" width="2" height="4.4" fill="#26a69a"/>
<rect x="1078" y="802.0" width="2" height="5.7" fill="#26a69a"/>
<rect x="1081" y="801.4" width="2" height="6.3" fill="#26a69a"/>
<rect x="1084" y="800.6" width="2" height="7.1" fill="#26a69a"/>
<rect x="1088" y="800.7" width="2" height="7.0" fill="#b2dfdb"/>
<rect x="1091" y="800.1" width="2" height="7.6" fill="#26a69a"/>
<rect x="1094" y="800.8" width="2" height="6.9" fill="#b2dfdb"/>
<rect x="1098" y="801.4" width="2" height="6.3" fill="#b2dfdb"/>
<rect x="1101" y="803.0" width="2" height="4.7" fill="#b2dfdb"/>
<rect x="1104" y="804.8" width="2" height="2.9" fill="#b2dfdb"/>
<rect x="1107" y="804.8" width="2" height="2.9" fill="#26a69a"/>
<rect x="1111" y="804.5" width="2" height="3.2" fill="#26a69a"/>
<rect x="1114" y="804.7" width="2" height="3.0" fill="#b2dfdb"/>
<rect x="1117" y="804.6" width="2" height="3.1" fill="#26a69a"/>
<rect x="1121" y="804.8" width="2" height="2.9" fill="#b2dfdb"/>
<rect x="1124" y="804.3" width="2" height="3.4" fill="#26a69a"/>
<rect x="1127" y="804.0" width="2" height="3.7" fill="#26a69a"/>
<rect x="1131" y="802.4" width="2" height="5.3" fill="#26a69a"/>
<rect x="1134" y="801.6" width="2" height="6.1" fill="#26a69a"/>
<rect x="1137" y="800.4" width="2" height="7.3" fill="#26a69a"/>
<rect x="1140" y="800.1" width="2" height="7.6" fill="#26a69a"/>
<rect x="1144" y="799.7" width="2" height="8.0" fill="#26a69a"/>
<rect x="1147" y="799.3" width="2" height="8.4" fill="#26a69a"/>
<rect x="1150" y="799.6" width="2" height="8.1" fill="#b2dfdb"/>
<rect x="1154" y="801.1" width="2" height="6.6" fill="#b2dfdb"/>
<polyline points="9.8,798.4 13.1,796.3 16.4,794.0 19.7,792.3 23.0,791.1 26.3,791.6 29.5,793.2 32.8,794.6 36.1,797.9 39.4,799.6 42.7,802.1 46.0,803.8 49.3,803.9 52.6,802.8 55.9,802.2 59.2,801.4 62.5,801.0 65.7,798.6 69.0,798.9 72.3,798.3 75.6,797.0 78.9,796.5 82.2,794.3 85.5,791.0 88.8,789.8 92.1,789.7 95.4,790.2 98.7,791.8 101.9,792.4 105.2,793.2 108.5,794.2 111.8,793.9 115.1,794.2 118.4,793.4 121.7,792.1 125.0,791.5 128.3,791.5 131.6,790.4 134.9,789.5 138.1,790.3 141.4,791.5 144.7,793.0 148.0,793.6 151.3,794.2 154.6,794.3 157.9,795.0 161.2,797.2 164.5,800.2 167.8,801.3 171.1,803.1 174.3,803.8 177.6,806.0 180.9,805.4 184.2,806.0 187.5,805.0 190.8,806.9 194.1,808.6 197.4,808.2 200.7,808.3 204.0,808.5 207.3,809.5 210.6,810.6 213.8,810.5 217.1,809.2 220.4,807.7 223.7,807.2 227.0,807.0 230.3,805.7 233.6,803.4 236.9,799.6 240.2,796.2 243.5,792.2 246.8,788.3 250.0,785.5 253.3,783.8 256.6,782.6 259.9,781.7 263.2,781.1 266.5,781.2 269.8,782.1 273.1,783.4 276.4,784.9 279.7,788.1 283.0,791.4 286.2,794.3 289.5,795.9 292.8,797.7 296.1,798.5 299.4,800.1 302.7,799.4 306.0,798.0 309.3,797.1 312.6,796.5 315.9,797.1 319.2,798.1 322.4,798.0 325.7,796.1 329.0,794.3 332.3,791.2 335.6,788.4 338.9,786.2 342.2,783.2 345.5,780.0 348.8,778.0 352.1,777.5 355.4,776.6 358.6,774.7 361.9,773.1 365.2,772.3 368.5,773.9 371.8,775.2 375.1,776.0 378.4,774.8 381.7,775.2 385.0,774.9 388.3,774.2 391.6,773.3 394.8,769.9 398.1,768.2 401.4,765.5 404.7,763.6 408.0,765.5 411.3,768.1 414.6,770.8 417.9,772.4 421.2,774.1 424.5,773.2 427.8,774.7 431.0,776.2 434.3,773.7 437.6,777.7 440.9,776.0 444.2,772.8 447.5,773.6 450.8,777.1 454.1,782.2 457.4,784.1 460.7,786.6 464.0,786.0 467.2,784.6 470.5,782.3 473.8,781.4 477.1,783.0 480.4,785.1 483.7,787.3 487.0,787.6 490.3,789.8 493.6,792.9 496.9,797.0 500.2,802.3 503.4,803.8 506.7,806.2 510.0,812.5 513.3,824.6 516.6,839.6 519.9,847.7 523.2,857.7 526.5,859.0 529.8,860.6 533.1,857.3 536.4,852.2 539.7,847.3 542.9,844.0 546.2,840.1 549.5,831.8 552.8,824.8 556.1,818.0 559.4,812.4 562.7,806.7 566.0,802.0 569.3,794.4 572.6,786.8 575.9,781.8 579.1,779.2 582.4,775.8 585.7,772.6 589.0,769.9 592.3,767.8 595.6,767.4 598.9,766.4 602.2,765.6 605.5,764.3 608.8,763.2 612.1,762.1 615.3,762.7 618.6,766.1 621.9,766.5 625.2,766.1 628.5,767.3 631.8,769.6 635.1,771.4 638.4,773.6 641.7,774.7 645.0,774.7 648.3,774.7 651.5,775.3 654.8,777.0 658.1,779.9 661.4,782.8 664.7,786.4 668.0,791.2 671.3,793.9 674.6,798.4 677.9,802.7 681.2,807.6 684.5,809.5 687.7,811.5 691.0,810.5 694.3,810.7 697.6,809.8 700.9,806.5 704.2,804.8 707.5,805.0 710.8,804.4 714.1,803.0 717.4,803.1 720.7,801.1 723.9,798.9 727.2,794.8 730.5,792.5 733.8,792.2 737.1,792.7 740.4,794.0 743.7,795.5 747.0,794.5 750.3,794.3 753.6,794.2 756.9,796.0 760.1,796.4 763.4,796.3 766.7,796.9 770.0,799.2 773.3,799.4 776.6,799.3 779.9,800.7 783.2,806.3 786.5,808.2 789.8,809.2 793.1,809.5 796.3,807.8 799.6,806.7 802.9,806.4 806.2,806.6 809.5,805.7 812.8,803.6 816.1,802.4 819.4,801.6 822.7,800.3 826.0,800.4 829.3,800.4 832.5,800.1 835.8,800.5 839.1,801.7 842.4,803.5 845.7,804.9 849.0,807.1 852.3,807.8 855.6,812.1 858.9,814.6 862.2,815.3 865.5,817.1 868.8,816.9 872.0,817.3 875.3,818.0 878.6,818.0 881.9,817.8 885.2,817.3 888.5,819.6 891.8,821.3 895.1,820.0 898.4,819.3 901.7,819.3 905.0,818.5 908.2,817.5 911.5,817.4 914.8,815.9 918.1,814.6 921.4,812.5 924.7,809.0 928.0,804.4 931.3,801.2 934.6,798.7 937.9,796.9 941.2,794.1 944.4,792.1 947.7,793.1 951.0,793.1 954.3,794.2 957.6,795.6 960.9,796.2 964.2,799.9 967.5,799.9 970.8,799.6 974.1,800.6 977.4,800.9 980.6,801.3 983.9,801.1 987.2,801.2 990.5,802.4 993.8,803.5 997.1,805.5 1000.4,805.9 1003.7,807.4 1007.0,808.0 1010.3,810.5 1013.6,813.6 1016.8,813.2 1020.1,812.0 1023.4,809.0 1026.7,809.1 1030.0,810.2 1033.3,813.0 1036.6,817.9 1039.9,821.6 1043.2,823.6 1046.5,826.1 1049.8,827.0 1053.0,825.9 1056.3,823.1 1059.6,820.5 1062.9,817.9 1066.2,817.4 1069.5,815.5 1072.8,814.8 1076.1,812.7 1079.4,809.9 1082.7,807.7 1086.0,805.2 1089.2,803.5 1092.5,801.1 1095.8,800.0 1099.1,799.0 1102.4,799.4 1105.7,800.5 1109.0,799.8 1112.3,798.7 1115.6,798.2 1118.9,797.3 1122.2,796.8 1125.4,795.4 1128.7,794.2 1132.0,791.3 1135.3,789.0 1138.6,785.9 1141.9,783.8 1145.2,781.4 1148.5,778.8 1151.8,777.1 1155.1,776.9" fill="none" stroke="#2962ff" stroke-width="1.3" stroke-linejoin="round" stroke-linecap="round"/>
<polyline points="9.8,806.2 13.1,804.2 16.4,802.2 19.7,800.2 23.0,798.4 26.3,797.0 29.5,796.2 32.8,795.9 36.1,796.3 39.4,797.0 42.7,798.0 46.0,799.1 49.3,800.1 52.6,800.6 55.9,801.0 59.2,801.0 62.5,801.0 65.7,800.5 69.0,800.2 72.3,799.8 75.6,799.2 78.9,798.7 82.2,797.8 85.5,796.5 88.8,795.1 92.1,794.0 95.4,793.3 98.7,793.0 101.9,792.9 105.2,792.9 108.5,793.2 111.8,793.3 115.1,793.5 118.4,793.5 121.7,793.2 125.0,792.8 128.3,792.6 131.6,792.1 134.9,791.6 138.1,791.4 141.4,791.4 144.7,791.7 148.0,792.1 151.3,792.5 154.6,792.9 157.9,793.3 161.2,794.1 164.5,795.3 167.8,796.5 171.1,797.8 174.3,799.0 177.6,800.4 180.9,801.4 184.2,802.3 187.5,802.9 190.8,803.7 194.1,804.7 197.4,805.4 200.7,806.0 204.0,806.5 207.3,807.1 210.6,807.8 213.8,808.3 217.1,808.5 220.4,808.3 223.7,808.1 227.0,807.9 230.3,807.4 233.6,806.6 236.9,805.2 240.2,803.4 243.5,801.2 246.8,798.6 250.0,796.0 253.3,793.5 256.6,791.3 259.9,789.4 263.2,787.7 266.5,786.4 269.8,785.6 273.1,785.1 276.4,785.1 279.7,785.7 283.0,786.8 286.2,788.3 289.5,789.8 292.8,791.4 296.1,792.8 299.4,794.3 302.7,795.3 306.0,795.8 309.3,796.1 312.6,796.2 315.9,796.4 319.2,796.7 322.4,797.0 325.7,796.8 329.0,796.3 332.3,795.3 335.6,793.9 338.9,792.4 342.2,790.5 345.5,788.4 348.8,786.3 352.1,784.6 355.4,783.0 358.6,781.3 361.9,779.7 365.2,778.2 368.5,777.4 371.8,776.9 375.1,776.7 378.4,776.3 381.7,776.1 385.0,775.9 388.3,775.5 391.6,775.1 394.8,774.0 398.1,772.9 401.4,771.4 404.7,769.9 408.0,769.0 411.3,768.8 414.6,769.2 417.9,769.8 421.2,770.7 424.5,771.2 427.8,771.9 431.0,772.8 434.3,773.0 437.6,773.9 440.9,774.3 444.2,774.0 447.5,773.9 450.8,774.6 454.1,776.1 457.4,777.7 460.7,779.5 464.0,780.8 467.2,781.6 470.5,781.7 473.8,781.6 477.1,781.9 480.4,782.5 483.7,783.5 487.0,784.3 490.3,785.4 493.6,786.9 496.9,788.9 500.2,791.6 503.4,794.0 506.7,796.5 510.0,799.7 513.3,804.7 516.6,811.7 519.9,818.9 523.2,826.6 526.5,833.1 529.8,838.6 533.1,842.3 536.4,844.3 539.7,844.9 542.9,844.7 546.2,843.8 549.5,841.4 552.8,838.1 556.1,834.1 559.4,829.7 562.7,825.1 566.0,820.5 569.3,815.3 572.6,809.6 575.9,804.0 579.1,799.1 582.4,794.4 585.7,790.0 589.0,786.0 592.3,782.4 595.6,779.4 598.9,776.8 602.2,774.5 605.5,772.5 608.8,770.6 612.1,768.9 615.3,767.7 618.6,767.4 621.9,767.2 625.2,767.0 628.5,767.0 631.8,767.6 635.1,768.3 638.4,769.4 641.7,770.4 645.0,771.3 648.3,772.0 651.5,772.6 654.8,773.5 658.1,774.8 661.4,776.4 664.7,778.4 668.0,780.9 671.3,783.5 674.6,786.5 677.9,789.8 681.2,793.3 684.5,796.6 687.7,799.5 691.0,801.7 694.3,803.5 697.6,804.8 700.9,805.1 704.2,805.0 707.5,805.0 710.8,804.9 714.1,804.5 717.4,804.2 720.7,803.6 723.9,802.7 727.2,801.1 730.5,799.4 733.8,797.9 737.1,796.9 740.4,796.3 743.7,796.2 747.0,795.8 750.3,795.5 753.6,795.3 756.9,795.4 760.1,795.6 763.4,795.7 766.7,796.0 770.0,796.6 773.3,797.2 776.6,797.6 779.9,798.2 783.2,799.8 786.5,801.5 789.8,803.1 793.1,804.3 796.3,805.0 799.6,805.4 802.9,805.6 806.2,805.8 809.5,805.8 812.8,805.3 816.1,804.8 819.4,804.1 822.7,803.4 826.0,802.8 829.3,802.3 832.5,801.9 835.8,801.6 839.1,801.6 842.4,802.0 845.7,802.6 849.0,803.5 852.3,804.3 855.6,805.9 858.9,807.6 862.2,809.2 865.5,810.8 868.8,812.0 872.0,813.0 875.3,814.0 878.6,814.8 881.9,815.4 885.2,815.8 888.5,816.6 891.8,817.5 895.1,818.0 898.4,818.3 901.7,818.5 905.0,818.5 908.2,818.3 911.5,818.1 914.8,817.7 918.1,817.0 921.4,816.1 924.7,814.7 928.0,812.6 931.3,810.3 934.6,808.0 937.9,805.8 941.2,803.5 944.4,801.2 947.7,799.6 951.0,798.3 954.3,797.4 957.6,797.1 960.9,796.9 964.2,797.5 967.5,798.0 970.8,798.3 974.1,798.8 977.4,799.2 980.6,799.6 983.9,799.9 987.2,800.1 990.5,800.6 993.8,801.2 997.1,802.0 1000.4,802.8 1003.7,803.7 1007.0,804.6 1010.3,805.8 1013.6,807.3 1016.8,808.5 1020.1,809.2 1023.4,809.2 1026.7,809.2 1030.0,809.4 1033.3,810.1 1036.6,811.6 1039.9,813.6 1043.2,815.6 1046.5,817.7 1049.8,819.6 1053.0,820.8 1056.3,821.3 1059.6,821.1 1062.9,820.5 1066.2,819.9 1069.5,819.0 1072.8,818.1 1076.1,817.1 1079.4,815.6 1082.7,814.0 1086.0,812.3 1089.2,810.5 1092.5,808.6 1095.8,806.9 1099.1,805.3 1102.4,804.1 1105.7,803.4 1109.0,802.7 1112.3,801.9 1115.6,801.2 1118.9,800.4 1122.2,799.7 1125.4,798.8 1128.7,797.9 1132.0,796.6 1135.3,795.1 1138.6,793.2 1141.9,791.3 1145.2,789.3 1148.5,787.2 1151.8,785.2 1155.1,783.6" fill="none" stroke="#ff6d00" stroke-width="1.3" stroke-linejoin="round" stroke-linecap="round"/>
</g>
<text x="10.3" y="18.8" font-family="Liberation Sans, sans-serif" font-size="12" fill="#131722" textLength="365.7" lengthAdjust="spacingAndGlyphs" stroke="#131722" stroke-width="0.25">B_R_A_D_ created with TradingView.com, Jan 15, 2026 07:25 UTC+1</text>
<text x="18.2" y="46.2" font-family="Liberation Sans, sans-serif" font-size="12" fill="#131722" textLength="117.8" lengthAdjust="spacingAndGlyphs" stroke="#131722" stroke-width="0.25">DAX Index · 1D · XETR</text>
<text x="143.2" y="46.2" font-family="Liberation Sans, sans-serif" font-size="12" fill="#131722" textLength="8.0" lengthAdjust="spacingAndGlyphs" stroke="#131722" stroke-width="0.25">O</text>
<text x="151.5" y="46.2" font-family="Liberation Sans, sans-serif" font-size="12" fill="#f23645" textLength="52.3" lengthAdjust="spacingAndGlyphs" stroke="#f23645" stroke-width="0.25">25,429.75</text>
<text x="211.4" y="46.2" font-family="Liberation Sans, sans-serif" font-size="12" fill="#131722" textLength="7.6" lengthAdjust="spacingAndGlyphs" stroke="#131722" stroke-width="0.25">H</text>
<text x="219.3" y="46.2" font-family="Liberation Sans, sans-serif" font-size="12" fill="#f23645" textLength="52.3" lengthAdjust="spacingAndGlyphs" stroke="#f23645" stroke-width="0.25">25,461.36</text>
<text x="279.6" y="46.2" font-family="Liberation Sans, sans-serif" font-size="12" fill="#131722" textLength="5.4" lengthAdjust="spacingAndGlyphs" stroke="#131722" stroke-width="0.25">L</text>
<text x="285.3" y="46.2" font-family="Liberation Sans, sans-serif" font-size="12" fill="#f23645" textLength="52.4" lengthAdjust="spacingAndGlyphs" stroke="#f23645" stroke-width="0.25">25,268.27</text>
<text x="345.4" y="46.2" font-family="Liberation Sans, sans-serif" font-size="12" fill="#131722" textLength="6.5" lengthAdjust="spacingAndGlyphs" stroke="#131722" stroke-width="0.25">C</text>
<text x="352.2" y="46.2" font-family="Liberation Sans, sans-serif" font-size="12" fill="#f23645" textLength="52.9" lengthAdjust="spacingAndGlyphs" stroke="#f23645" stroke-width="0.25">25,286.24</text>
<text x="412.8" y="46.2" font-family="Liberation Sans, sans-serif" font-size="12" fill="#f23645" textLength="90.5" lengthAdjust="spacingAndGlyphs" stroke="#f23645" stroke-width="0.25">−134.42 (−0.53%)</text>
<text x="1502.3" y="56.0" font-family="Liberation Sans, sans-serif" font-size="12" fill="#131722" text-anchor="end" textLength="52.1" lengthAdjust="spacingAndGlyphs" stroke="#131722" stroke-width="0.25">26,000.00</text>
<text x="1502.3" y="91.3" font-family="Liberation Sans, sans-serif" font-size="12" fill="#131722" text-anchor="end" textLength="52.1" lengthAdjust="spacingAndGlyphs" stroke="#131722" stroke-width="0.25">25,500.00</text>
<text x="1502.3" y="126.6" font-family="Liberation Sans, sans-serif" font-size="12" fill="#131722" text-anchor="end" textLength="52.1" lengthAdjust="spacingAndGlyphs" stroke="#131722" stroke-width="0.25">25,000.00</text>
<text x="1502.3" y="161.9" font-family="Liberation Sans, sans-serif" font-size="12" fill="#131722" text-anchor="end" textLength="52.1" lengthAdjust="spacingAndGlyphs" stroke="#131722" stroke-width="0.25">24,500.00</text>
<text x="1502.3" y="197.2" font-family="Liberation Sans, sans-serif" font-size="12" fill="#131722" text-anchor="end" textLength="52.1" lengthAdjust="spacingAndGlyphs" stroke="#131722" stroke-width="0.25">24,000.00</text>
<text x="1502.3" y="232.6" font-family="Liberation Sans, sans-serif" font-size="12" fill="#131722" text-anchor="end" textLength="52.1" lengthAdjust="spacingAndGlyphs" stroke="#131722" stroke-width="0.25">23,500.00</text>
<text x="1502.3" y="267.9" font-family="Liberation Sans, sans-serif" font-size="12" fill="#131722" text-anchor="end" textLength="52.1" lengthAdjust="spacingAndGlyphs" stroke="#131722" stroke-width="0.25">23,000.00</text>
<text x="1502.3" y="303.2" font-family="Liberation Sans, sans-serif" font-size="12" fill="#131722" text-anchor="end" textLength="52.1" lengthAdjust="spacingAndGlyphs" stroke="#131722" stroke-width="0.25">22,500.00</text>
<text x="1502.3" y="338.5" font-family="Liberation Sans, sans-serif" font-size="12" fill="#131722" text-anchor="end" textLength="52.1" lengthAdjust="spacingAndGlyphs" stroke="#131722" stroke-width="0.25">22,000.00</text>
<text x="1502.3" y="373.8" font-family="Liberation Sans, sans-serif" font-size="12" fill="#131722" text-anchor="end" textLength="52.1" lengthAdjust="spacingAndGlyphs" stroke="#131722" stroke-width="0.25">21,500.00</text>
<text x="1502.3" y="409.1" font-family="Liberation Sans, sans-serif" font-size="12" fill="#131722" text-anchor="end" textLength="52.1" lengthAdjust="spacingAndGlyphs" stroke="#131722" stroke-width="0.25">21,000.00</text>
<text x="1502.3" y="444.4" font-family="Liberation Sans, sans-serif" font-size="12" fill="#131722" text-anchor="end" textLength="52.1" lengthAdjust="spacingAndGlyphs" stroke="#131722" stroke-width="0.25">20,500.00</text>
<text x="1502.3" y="479.8" font-family="Liberation Sans, sans-serif" font-size="12" fill="#131722" text-anchor="end" textLength="52.1" lengthAdjust="spacingAndGlyphs" stroke="#131722" stroke-width="0.25">20,000.00</text>
<text x="1502.3" y="515.1" font-family="Liberation Sans, sans-serif" font-size="12" fill="#131722" text-anchor="end" textLength="52.1" lengthAdjust="spacingAndGlyphs" stroke="#131722" stroke-width="0.25">19,500.00</text>
<text x="1502.3" y="550.4" font-family="Liberation Sans, sans-serif" font-size="12" fill="#131722" text-anchor="end" textLength="52.1" lengthAdjust="spacingAndGlyphs" stroke="#131722" stroke-width="0.25">19,000.00</text>
<text x="1502.3" y="585.7" font-family="Liberation Sans, sans-serif" font-size="12" fill="#131722" text-anchor="end" textLength="52.1" lengthAdjust="spacingAndGlyphs" stroke="#131722" stroke-width="0.25">18,500.00</text>
<text x="1502.3" y="621.0" font-family="Liberation Sans, sans-serif" font-size="12" fill="#131722" text-anchor="end" textLength="52.1" lengthAdjust="spacingAndGlyphs" stroke="#131722" stroke-width="0.25">18,000.00</text>
<text x="23.0" y="887.0" font-family="Liberation Sans, sans-serif" font-size="12" fill="#131722" text-anchor="middle" textLength="19.2" lengthAdjust="spacingAndGlyphs" stroke="#131722" stroke-width="0.25">Sep</text>
<text x="92.1" y="887.0" font-family="Liberation Sans, sans-serif" font-size="12" fill="#131722" text-anchor="middle" textLength="16.8" lengthAdjust="spacingAndGlyphs" stroke="#131722" stroke-width="0.25">Oct</text>
<text x="167.8" y="887.0" font-family="Liberation Sans, sans-serif" font-size="12" fill="#131722" text-anchor="middle" textLength="19.2" lengthAdjust="spacingAndGlyphs" stroke="#131722" stroke-width="0.25">Nov</text>
<text x="236.9" y="887.0" font-family="Liberation Sans, sans-serif" font-size="12" fill="#131722" text-anchor="middle" textLength="19.2" lengthAdjust="spacingAndGlyphs" stroke="#131722" stroke-width="0.25">Dec</text>
<text x="296.1" y="887.0" font-family="Liberation Sans, sans-serif" font-size="12" fill="#131722" text-anchor="middle" font-weight="bold" textLength="24.0" lengthAdjust="spacingAndGlyphs">2025</text>
<text x="368.5" y="887.0" font-family="Liberation Sans, sans-serif" font-size="12" fill="#131722" text-anchor="middle" textLength="18.6" lengthAdjust="spacingAndGlyphs" stroke="#131722" stroke-width="0.25">Feb</text>
<text x="434.3" y="887.0" font-family="Liberation Sans, sans-serif" font-size="12" fill="#131722" text-anchor="middle" textLength="18.6" lengthAdjust="spacingAndGlyphs" stroke="#131722" stroke-width="0.25">Mar</text>
<text x="503.4" y="887.0" font-family="Liberation Sans, sans-serif" font-size="12" fill="#131722" text-anchor="middle" textLength="16.8" lengthAdjust="spacingAndGlyphs" stroke="#131722" stroke-width="0.25">Apr</text>
<text x="569.3" y="887.0" font-family="Liberation Sans, sans-serif" font-size="12" fill="#131722" text-anchor="middle" textLength="20.4" lengthAdjust="spacingAndGlyphs" stroke="#131722" stroke-width="0.25">May</text>
<text x="638.4" y="887.0" font-family="Liberation Sans, sans-serif" font-size="12" fill="#131722" text-anchor="middle" textLength="17.4" lengthAdjust="spacingAndGlyphs" stroke="#131722" stroke-width="0.25">Jun</text>
<text x="707.5" y="887.0" font-family="Liberation Sans, sans-serif" font-size="12" fill="#131722" text-anchor="middle" textLength="13.8" lengthAdjust="spacingAndGlyphs" stroke="#131722" stroke-width="0.25">Jul</text>
<text x="783.2" y="887.0" font-family="Liberation Sans, sans-serif" font-size="12" fill="#131722" text-anchor="middle" textLength="19.2" lengthAdjust="spacingAndGlyphs" stroke="#131722" stroke-width="0.25">Aug</text>
<text x="852.3" y="887.0" font-family="Liberation Sans, sans-serif" font-size="12" fill="#131722" text-anchor="middle" textLength="19.2" lengthAdjust="spacingAndGlyphs" stroke="#131722" stroke-width="0.25">Sep</text>
<text x="924.7" y="887.0" font-family="Liberation Sans, sans-serif" font-size="12" fill="#131722" text-anchor="middle" textLength="16.8" lengthAdjust="spacingAndGlyphs" stroke="#131722" stroke-width="0.25">Oct</text>
<text x="1000.4" y="887.0" font-family="Liberation Sans, sans-serif" font-size="12" fill="#131722" text-anchor="middle" textLength="19.2" lengthAdjust="spacingAndGlyphs" stroke="#131722" stroke-width="0.25">Nov</text>
<text x="1066.2" y="887.0" font-family="Liberation Sans, sans-serif" font-size="12" fill="#131722" text-anchor="middle" textLength="19.2" lengthAdjust="spacingAndGlyphs" stroke="#131722" stroke-width="0.25">Dec</text>
<text x="1128.7" y="887.0" font-family="Liberation Sans, sans-serif" font-size="12" fill="#131722" text-anchor="middle" font-weight="bold" textLength="24.0" lengthAdjust="spacingAndGlyphs">2026</text>
<text x="1197.9" y="887.0" font-family="Liberation Sans, sans-serif" font-size="12" fill="#131722" text-anchor="middle" textLength="18.6" lengthAdjust="spacingAndGlyphs" stroke="#131722" stroke-width="0.25">Feb</text>
<text x="1263.7" y="887.0" font-family="Liberation Sans, sans-serif" font-size="12" fill="#131722" text-anchor="middle" textLength="18.6" lengthAdjust="spacingAndGlyphs" stroke="#131722" stroke-width="0.25">Mar</text>
<text x="1336.1" y="887.0" font-family="Liberation Sans, sans-serif" font-size="12" fill="#131722" text-anchor="middle" textLength="16.8" lengthAdjust="spacingAndGlyphs" stroke="#131722" stroke-width="0.25">Apr</text>
<text x="1401.9" y="887.0" font-family="Liberation Sans, sans-serif" font-size="12" fill="#131722" text-anchor="middle" textLength="20.4" lengthAdjust="spacingAndGlyphs" stroke="#131722" stroke-width="0.25">May</text>
<text x="1450.3" y="681.2" font-family="Liberation Sans, sans-serif" font-size="12" fill="#131722" stroke="#131722" stroke-width="0.25">60.00</text>
<text x="1450.3" y="712.0" font-family="Liberation Sans, sans-serif" font-size="12" fill="#131722" stroke="#131722" stroke-width="0.25">40.00</text>
<text x="1450.3" y="742.7" font-family="Liberation Sans, sans-serif" font-size="12" fill="#131722" stroke="#131722" stroke-width="0.25">20.00</text>
<text x="1450.3" y="811.7" font-family="Liberation Sans, sans-serif" font-size="12" fill="#131722" stroke="#131722" stroke-width="0.25">0.00</text>
<text x="1450.3" y="844.0" font-family="Liberation Sans, sans-serif" font-size="12" fill="#131722" stroke="#131722" stroke-width="0.25">−400.00</text>
<path d="M1442 95h64a2 2 0 0 1 2 2v12.5a2 2 0 0 1 -2 2h-64z" fill="#f23645"/>
<text x="1450.0" y="107.2" font-family="Liberation Sans, sans-serif" font-size="12" fill="#fff" stroke="#fff" stroke-width="0.45">25,286.24</text>
<path d="M1442 113h64a2 2 0 0 1 2 2v12.5a2 2 0 0 1 -2 2h-64z" fill="#f23645"/>
<text x="1450.0" y="125.2" font-family="Liberation Sans, sans-serif" font-size="12" fill="#fff" stroke="#fff" stroke-width="0.45">25,041.42</text>
<path d="M1442 142h64a2 2 0 0 1 2 2v12.5a2 2 0 0 1 -2 2h-64z" fill="#2962ff"/>
<text x="1450.0" y="154.2" font-family="Liberation Sans, sans-serif" font-size="12" fill="#fff" stroke="#fff" stroke-width="0.45">24,631.29</text>
<path d="M1442 178h64a2 2 0 0 1 2 2v12.5a2 2 0 0 1 -2 2h-64z" fill="#089981"/>
<text x="1450.0" y="190.2" font-family="Liberation Sans, sans-serif" font-size="12" fill="#fff" stroke="#fff" stroke-width="0.45">24,121.37</text>
<path d="M1442 205.5h64a2 2 0 0 1 2 2v12.5a2 2 0 0 1 -2 2h-64z" fill="#f57c00"/>
<text x="1450.0" y="217.8" font-family="Liberation Sans, sans-serif" font-size="12" fill="#fff" stroke="#fff" stroke-width="0.45">23,723.79</text>
<path d="M1442 634h41a2 2 0 0 1 2 2v10.799999999999955a2 2 0 0 1 -2 2h-41z" fill="#ff5252"/>
<text x="1450.0" y="645.4" font-family="Liberation Sans, sans-serif" font-size="12" fill="#fff" stroke="#fff" stroke-width="0.45">74.15</text>
<path d="M1442 649h41a2 2 0 0 1 2 2v12.799999999999955a2 2 0 0 1 -2 2h-41z" fill="#9c27b0"/>
<text x="1450.0" y="661.4" font-family="Liberation Sans, sans-serif" font-size="12" fill="#fff" stroke="#fff" stroke-width="0.45">72.87</text>
<path d="M1442 675.2h41a2 2 0 0 1 2 2v12.5a2 2 0 0 1 -2 2h-41z" fill="#2962ff"/>
<text x="1450.0" y="687.5" font-family="Liberation Sans, sans-serif" font-size="12" fill="#fff" stroke="#fff" stroke-width="0.45">56.34</text>
<path d="M1442 758h47a2 2 0 0 1 2 2v12.5a2 2 0 0 1 -2 2h-47z" fill="#2962ff"/>
<text x="1450.0" y="770.2" font-family="Liberation Sans, sans-serif" font-size="12" fill="#fff" stroke="#fff" stroke-width="0.45">368.10</text>
<path d="M1442 775h47a2 2 0 0 1 2 2v12.700000000000045a2 2 0 0 1 -2 2h-47z" fill="#ff6d00"/>
<text x="1450.0" y="787.4" font-family="Liberation Sans, sans-serif" font-size="12" fill="#fff" stroke="#fff" stroke-width="0.45">289.42</text>
<path d="M1442 792.5h41a2 2 0 0 1 2 2v12.0a2 2 0 0 1 -2 2h-41z" fill="#b2dfdb"/>
<text x="1450.0" y="804.5" font-family="Liberation Sans, sans-serif" font-size="12" fill="#131722" stroke="#131722" stroke-width="0.45">78.68</text>
<rect x="1304" y="572" width="36" height="39" fill="#ffffff"/>
<circle cx="1318.5" cy="584.9" r="11.1" fill="none" stroke="#3949ab" stroke-width="2.9"/>
<line x1="1326" y1="594.5" x2="1334.5" y2="605.8" stroke="#3949ab" stroke-width="4.2" stroke-linecap="round"/>
<polyline points="1309.1,584.9 1313.3,584.9 1314.9,579.1 1317.2,590.6 1320.6,582.7 1322.4,588.5 1324.8,584.9 1327.7,584.9" fill="none" stroke="#ff1a1a" stroke-width="1.3" stroke-linejoin="round"/>
<path d="M12.1 919.1H24V933.8H18V924.8H12.1Z" fill="#131722"/>
<circle cx="29" cy="922" r="2.95" fill="#131722"/>
<path d="M35.2 919.1H41.9L36 933.8H29.1Z" fill="#131722"/>
<text x="48.5" y="933.8" font-family="Liberation Sans, sans-serif" font-size="20" fill="#131722" font-weight="bold" textLength="121.5" lengthAdjust="spacingAndGlyphs">TradingView</text>
</svg>
</body></html>
